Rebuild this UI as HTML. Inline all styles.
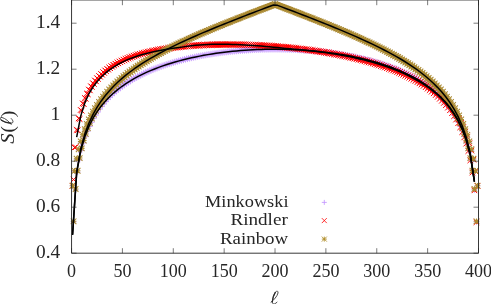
<!DOCTYPE html>
<html><head><meta charset="utf-8"><title>S(l)</title>
<style>
html,body{margin:0;padding:0;background:#fff;}
body{width:491px;height:304px;overflow:hidden;}
svg{display:block;font-family:"Liberation Serif",serif;}
</style></head><body>
<svg width="491" height="304" viewBox="0 0 491 304">
<rect width="491" height="304" fill="#fff"/>
<g fill="none" stroke-linecap="butt">
<path d="M69.77 185.78h5.6M72.57 182.98v5.6M70.78 221.99h5.6M73.58 219.19v5.6M71.8 171.17h5.6M74.6 168.37v5.6M72.82 190.07h5.6M75.62 187.27v5.6M73.84 159.48h5.6M76.64 156.68v5.6M74.85 172.18h5.6M77.65 169.38v5.6M75.87 150.3h5.6M78.67 147.5v5.6M76.89 159.87h5.6M79.69 157.07v5.6M77.91 142.84h5.6M80.71 140.04v5.6M78.92 150.51h5.6M81.72 147.71v5.6M79.94 136.57h5.6M82.74 133.77v5.6M80.96 142.97h5.6M83.76 140.17v5.6M81.98 131.18h5.6M84.78 128.38v5.6M82.99 136.67h5.6M85.79 133.87v5.6M84.01 126.45h5.6M86.81 123.65v5.6M85.03 131.27h5.6M87.83 128.47v5.6M86.05 122.24h5.6M88.85 119.44v5.6M87.06 126.54h5.6M89.86 123.74v5.6M88.08 118.46h5.6M90.88 115.66v5.6M89.1 122.33h5.6M91.9 119.53v5.6M90.11 115.02h5.6M92.91 112.22v5.6M91.13 118.55h5.6M93.93 115.75v5.6M92.15 111.87h5.6M94.95 109.07v5.6M93.17 115.11h5.6M95.97 112.31v5.6M94.18 108.97h5.6M96.98 106.17v5.6M95.2 111.97h5.6M98 109.17v5.6M96.22 106.28h5.6M99.02 103.48v5.6M97.24 109.07h5.6M100.04 106.27v5.6M98.25 103.77h5.6M101.05 100.97v5.6M99.27 106.39h5.6M102.07 103.59v5.6M100.29 101.43h5.6M103.09 98.63v5.6M101.31 103.89h5.6M104.11 101.09v5.6M102.32 99.23h5.6M105.12 96.43v5.6M103.34 101.55h5.6M106.14 98.75v5.6M104.36 97.16h5.6M107.16 94.36v5.6M105.38 99.36h5.6M108.18 96.56v5.6M106.39 95.2h5.6M109.19 92.4v5.6M107.41 97.29h5.6M110.21 94.49v5.6M108.43 93.34h5.6M111.23 90.54v5.6M109.44 95.34h5.6M112.24 92.54v5.6M110.46 91.58h5.6M113.26 88.78v5.6M111.48 93.49h5.6M114.28 90.69v5.6M112.5 89.91h5.6M115.3 87.11v5.6M113.51 91.74h5.6M116.31 88.94v5.6M114.53 88.31h5.6M117.33 85.51v5.6M115.55 90.07h5.6M118.35 87.27v5.6M116.57 86.79h5.6M119.37 83.99v5.6M117.58 88.48h5.6M120.38 85.68v5.6M118.6 85.33h5.6M121.4 82.53v5.6M119.62 86.96h5.6M122.42 84.16v5.6M120.64 83.94h5.6M123.44 81.14v5.6M121.65 85.51h5.6M124.45 82.71v5.6M122.67 82.6h5.6M125.47 79.8v5.6M123.69 84.13h5.6M126.49 81.33v5.6M124.71 81.32h5.6M127.51 78.52v5.6M125.72 82.8h5.6M128.52 80v5.6M126.74 80.08h5.6M129.54 77.28v5.6M127.76 81.52h5.6M130.56 78.72v5.6M128.78 78.9h5.6M131.58 76.1v5.6M129.79 80.3h5.6M132.59 77.5v5.6M130.81 77.76h5.6M133.61 74.96v5.6M131.83 79.12h5.6M134.63 76.32v5.6M132.84 76.66h5.6M135.64 73.86v5.6M133.86 77.99h5.6M136.66 75.19v5.6M134.88 75.6h5.6M137.68 72.8v5.6M135.9 76.89h5.6M138.7 74.09v5.6M136.91 74.58h5.6M139.71 71.78v5.6M137.93 75.84h5.6M140.73 73.04v5.6M138.95 73.59h5.6M141.75 70.79v5.6M139.97 74.83h5.6M142.77 72.03v5.6M140.98 72.64h5.6M143.78 69.84v5.6M142 73.85h5.6M144.8 71.05v5.6M143.02 71.72h5.6M145.82 68.92v5.6M144.04 72.9h5.6M146.84 70.1v5.6M145.05 70.83h5.6M147.85 68.03v5.6M146.07 71.99h5.6M148.87 69.19v5.6M147.09 69.97h5.6M149.89 67.17v5.6M148.11 71.11h5.6M150.91 68.31v5.6M149.12 69.13h5.6M151.92 66.33v5.6M150.14 70.25h5.6M152.94 67.45v5.6M151.16 68.33h5.6M153.96 65.53v5.6M152.17 69.43h5.6M154.97 66.63v5.6M153.19 67.55h5.6M155.99 64.75v5.6M154.21 68.63h5.6M157.01 65.83v5.6M155.23 66.79h5.6M158.03 63.99v5.6M156.24 67.86h5.6M159.04 65.06v5.6M157.26 66.06h5.6M160.06 63.26v5.6M158.28 67.11h5.6M161.08 64.31v5.6M159.3 65.35h5.6M162.1 62.55v5.6M160.31 66.39h5.6M163.11 63.59v5.6M161.33 64.66h5.6M164.13 61.86v5.6M162.35 65.68h5.6M165.15 62.88v5.6M163.37 63.99h5.6M166.17 61.19v5.6M164.38 65h5.6M167.18 62.2v5.6M165.4 63.35h5.6M168.2 60.55v5.6M166.42 64.35h5.6M169.22 61.55v5.6M167.44 62.72h5.6M170.24 59.92v5.6M168.45 63.71h5.6M171.25 60.91v5.6M169.47 62.12h5.6M172.27 59.32v5.6M170.49 63.09h5.6M173.29 60.29v5.6M171.5 61.53h5.6M174.3 58.73v5.6M172.52 62.49h5.6M175.32 59.69v5.6M173.54 60.96h5.6M176.34 58.16v5.6M174.56 61.91h5.6M177.36 59.11v5.6M175.57 60.4h5.6M178.37 57.6v5.6M176.59 61.35h5.6M179.39 58.55v5.6M177.61 59.87h5.6M180.41 57.07v5.6M178.63 60.81h5.6M181.43 58.01v5.6M179.64 59.35h5.6M182.44 56.55v5.6M180.66 60.28h5.6M183.46 57.48v5.6M181.68 58.85h5.6M184.48 56.05v5.6M182.7 59.77h5.6M185.5 56.97v5.6M183.71 58.36h5.6M186.51 55.56v5.6M184.73 59.27h5.6M187.53 56.47v5.6M185.75 57.89h5.6M188.55 55.09v5.6M186.77 58.79h5.6M189.57 55.99v5.6M187.78 57.43h5.6M190.58 54.63v5.6M188.8 58.33h5.6M191.6 55.53v5.6M189.82 56.98h5.6M192.62 54.18v5.6M190.83 57.88h5.6M193.63 55.08v5.6M191.85 56.56h5.6M194.65 53.76v5.6M192.87 57.45h5.6M195.67 54.65v5.6M193.89 56.14h5.6M196.69 53.34v5.6M194.9 57.03h5.6M197.7 54.23v5.6M195.92 55.74h5.6M198.72 52.94v5.6M196.94 56.62h5.6M199.74 53.82v5.6M197.96 55.35h5.6M200.76 52.55v5.6M198.97 56.23h5.6M201.77 53.43v5.6M199.99 54.98h5.6M202.79 52.18v5.6M201.01 55.85h5.6M203.81 53.05v5.6M202.03 54.62h5.6M204.83 51.82v5.6M203.04 55.49h5.6M205.84 52.69v5.6M204.06 54.27h5.6M206.86 51.47v5.6M205.08 55.13h5.6M207.88 52.33v5.6M206.1 53.93h5.6M208.9 51.13v5.6M207.11 54.79h5.6M209.91 51.99v5.6M208.13 53.6h5.6M210.93 50.8v5.6M209.15 54.47h5.6M211.95 51.67v5.6M210.17 53.29h5.6M212.97 50.49v5.6M211.18 54.15h5.6M213.98 51.35v5.6M212.2 52.99h5.6M215 50.19v5.6M213.22 53.85h5.6M216.02 51.05v5.6M214.23 52.7h5.6M217.03 49.9v5.6M215.25 53.56h5.6M218.05 50.76v5.6M216.27 52.42h5.6M219.07 49.62v5.6M217.29 53.28h5.6M220.09 50.48v5.6M218.3 52.16h5.6M221.1 49.36v5.6M219.32 53.01h5.6M222.12 50.21v5.6M220.34 51.9h5.6M223.14 49.1v5.6M221.36 52.75h5.6M224.16 49.95v5.6M222.37 51.66h5.6M225.17 48.86v5.6M223.39 52.51h5.6M226.19 49.71v5.6M224.41 51.42h5.6M227.21 48.62v5.6M225.43 52.27h5.6M228.23 49.47v5.6M226.44 51.2h5.6M229.24 48.4v5.6M227.46 52.05h5.6M230.26 49.25v5.6M228.48 50.98h5.6M231.28 48.18v5.6M229.5 51.83h5.6M232.3 49.03v5.6M230.51 50.78h5.6M233.31 47.98v5.6M231.53 51.63h5.6M234.33 48.83v5.6M232.55 50.59h5.6M235.35 47.79v5.6M233.56 51.44h5.6M236.36 48.64v5.6M234.58 50.41h5.6M237.38 47.61v5.6M235.6 51.26h5.6M238.4 48.46v5.6M236.62 50.24h5.6M239.42 47.44v5.6M237.63 51.09h5.6M240.43 48.29v5.6M238.65 50.07h5.6M241.45 47.27v5.6M239.67 50.93h5.6M242.47 48.13v5.6M240.69 49.92h5.6M243.49 47.12v5.6M241.7 50.78h5.6M244.5 47.98v5.6M242.72 49.78h5.6M245.52 46.98v5.6M243.74 50.64h5.6M246.54 47.84v5.6M244.76 49.65h5.6M247.56 46.85v5.6M245.77 50.51h5.6M248.57 47.71v5.6M246.79 49.53h5.6M249.59 46.73v5.6M247.81 50.38h5.6M250.61 47.58v5.6M248.83 49.41h5.6M251.63 46.61v5.6M249.84 50.27h5.6M252.64 47.47v5.6M250.86 49.31h5.6M253.66 46.51v5.6M251.88 50.17h5.6M254.68 47.37v5.6M252.89 49.22h5.6M255.69 46.42v5.6M253.91 50.08h5.6M256.71 47.28v5.6M254.93 49.13h5.6M257.73 46.33v5.6M255.95 50h5.6M258.75 47.2v5.6M256.96 49.06h5.6M259.76 46.26v5.6M257.98 49.93h5.6M260.78 47.13v5.6M259 48.99h5.6M261.8 46.19v5.6M260.02 49.87h5.6M262.82 47.07v5.6M261.03 48.93h5.6M263.83 46.13v5.6M262.05 49.81h5.6M264.85 47.01v5.6M263.07 48.89h5.6M265.87 46.09v5.6M264.09 49.77h5.6M266.89 46.97v5.6M265.1 48.85h5.6M267.9 46.05v5.6M266.12 49.74h5.6M268.92 46.94v5.6M267.14 48.82h5.6M269.94 46.02v5.6M268.16 49.71h5.6M270.96 46.91v5.6M269.17 48.8h5.6M271.97 46v5.6M270.19 49.7h5.6M272.99 46.9v5.6M271.21 48.8h5.6M274.01 46v5.6M272.22 49.69h5.6M275.02 46.89v5.6M273.24 48.8h5.6M276.04 46v5.6M274.26 49.7h5.6M277.06 46.9v5.6M275.28 48.8h5.6M278.08 46v5.6M276.29 49.71h5.6M279.09 46.91v5.6M277.31 48.82h5.6M280.11 46.02v5.6M278.33 49.74h5.6M281.13 46.94v5.6M279.35 48.85h5.6M282.15 46.05v5.6M280.36 49.77h5.6M283.16 46.97v5.6M281.38 48.89h5.6M284.18 46.09v5.6M282.4 49.81h5.6M285.2 47.01v5.6M283.42 48.93h5.6M286.22 46.13v5.6M284.43 49.87h5.6M287.23 47.07v5.6M285.45 48.99h5.6M288.25 46.19v5.6M286.47 49.93h5.6M289.27 47.13v5.6M287.49 49.06h5.6M290.29 46.26v5.6M288.5 50h5.6M291.3 47.2v5.6M289.52 49.13h5.6M292.32 46.33v5.6M290.54 50.08h5.6M293.34 47.28v5.6M291.56 49.22h5.6M294.36 46.42v5.6M292.57 50.17h5.6M295.37 47.37v5.6M293.59 49.31h5.6M296.39 46.51v5.6M294.61 50.27h5.6M297.41 47.47v5.6M295.62 49.41h5.6M298.42 46.61v5.6M296.64 50.38h5.6M299.44 47.58v5.6M297.66 49.53h5.6M300.46 46.73v5.6M298.68 50.51h5.6M301.48 47.71v5.6M299.69 49.65h5.6M302.49 46.85v5.6M300.71 50.64h5.6M303.51 47.84v5.6M301.73 49.78h5.6M304.53 46.98v5.6M302.75 50.78h5.6M305.55 47.98v5.6M303.76 49.92h5.6M306.56 47.12v5.6M304.78 50.93h5.6M307.58 48.13v5.6M305.8 50.07h5.6M308.6 47.27v5.6M306.82 51.09h5.6M309.62 48.29v5.6M307.83 50.24h5.6M310.63 47.44v5.6M308.85 51.26h5.6M311.65 48.46v5.6M309.87 50.41h5.6M312.67 47.61v5.6M310.89 51.44h5.6M313.69 48.64v5.6M311.9 50.59h5.6M314.7 47.79v5.6M312.92 51.63h5.6M315.72 48.83v5.6M313.94 50.78h5.6M316.74 47.98v5.6M314.95 51.83h5.6M317.75 49.03v5.6M315.97 50.98h5.6M318.77 48.18v5.6M316.99 52.05h5.6M319.79 49.25v5.6M318.01 51.2h5.6M320.81 48.4v5.6M319.02 52.27h5.6M321.82 49.47v5.6M320.04 51.42h5.6M322.84 48.62v5.6M321.06 52.51h5.6M323.86 49.71v5.6M322.08 51.66h5.6M324.88 48.86v5.6M323.09 52.75h5.6M325.89 49.95v5.6M324.11 51.9h5.6M326.91 49.1v5.6M325.13 53.01h5.6M327.93 50.21v5.6M326.15 52.16h5.6M328.95 49.36v5.6M327.16 53.28h5.6M329.96 50.48v5.6M328.18 52.42h5.6M330.98 49.62v5.6M329.2 53.56h5.6M332 50.76v5.6M330.22 52.7h5.6M333.02 49.9v5.6M331.23 53.85h5.6M334.03 51.05v5.6M332.25 52.99h5.6M335.05 50.19v5.6M333.27 54.15h5.6M336.07 51.35v5.6M334.28 53.29h5.6M337.08 50.49v5.6M335.3 54.47h5.6M338.1 51.67v5.6M336.32 53.6h5.6M339.12 50.8v5.6M337.34 54.79h5.6M340.14 51.99v5.6M338.35 53.93h5.6M341.15 51.13v5.6M339.37 55.13h5.6M342.17 52.33v5.6M340.39 54.27h5.6M343.19 51.47v5.6M341.41 55.49h5.6M344.21 52.69v5.6M342.42 54.62h5.6M345.22 51.82v5.6M343.44 55.85h5.6M346.24 53.05v5.6M344.46 54.98h5.6M347.26 52.18v5.6M345.48 56.23h5.6M348.28 53.43v5.6M346.49 55.35h5.6M349.29 52.55v5.6M347.51 56.62h5.6M350.31 53.82v5.6M348.53 55.74h5.6M351.33 52.94v5.6M349.55 57.03h5.6M352.35 54.23v5.6M350.56 56.14h5.6M353.36 53.34v5.6M351.58 57.45h5.6M354.38 54.65v5.6M352.6 56.56h5.6M355.4 53.76v5.6M353.61 57.88h5.6M356.41 55.08v5.6M354.63 56.98h5.6M357.43 54.18v5.6M355.65 58.33h5.6M358.45 55.53v5.6M356.67 57.43h5.6M359.47 54.63v5.6M357.68 58.79h5.6M360.48 55.99v5.6M358.7 57.89h5.6M361.5 55.09v5.6M359.72 59.27h5.6M362.52 56.47v5.6M360.74 58.36h5.6M363.54 55.56v5.6M361.75 59.77h5.6M364.55 56.97v5.6M362.77 58.85h5.6M365.57 56.05v5.6M363.79 60.28h5.6M366.59 57.48v5.6M364.81 59.35h5.6M367.61 56.55v5.6M365.82 60.81h5.6M368.62 58.01v5.6M366.84 59.87h5.6M369.64 57.07v5.6M367.86 61.35h5.6M370.66 58.55v5.6M368.88 60.4h5.6M371.68 57.6v5.6M369.89 61.91h5.6M372.69 59.11v5.6M370.91 60.96h5.6M373.71 58.16v5.6M371.93 62.49h5.6M374.73 59.69v5.6M372.95 61.53h5.6M375.75 58.73v5.6M373.96 63.09h5.6M376.76 60.29v5.6M374.98 62.12h5.6M377.78 59.32v5.6M376 63.71h5.6M378.8 60.91v5.6M377.01 62.72h5.6M379.81 59.92v5.6M378.03 64.35h5.6M380.83 61.55v5.6M379.05 63.35h5.6M381.85 60.55v5.6M380.07 65h5.6M382.87 62.2v5.6M381.08 63.99h5.6M383.88 61.19v5.6M382.1 65.68h5.6M384.9 62.88v5.6M383.12 64.66h5.6M385.92 61.86v5.6M384.14 66.39h5.6M386.94 63.59v5.6M385.15 65.35h5.6M387.95 62.55v5.6M386.17 67.11h5.6M388.97 64.31v5.6M387.19 66.06h5.6M389.99 63.26v5.6M388.21 67.86h5.6M391.01 65.06v5.6M389.22 66.79h5.6M392.02 63.99v5.6M390.24 68.63h5.6M393.04 65.83v5.6M391.26 67.55h5.6M394.06 64.75v5.6M392.28 69.43h5.6M395.08 66.63v5.6M393.29 68.33h5.6M396.09 65.53v5.6M394.31 70.25h5.6M397.11 67.45v5.6M395.33 69.13h5.6M398.13 66.33v5.6M396.34 71.11h5.6M399.14 68.31v5.6M397.36 69.97h5.6M400.16 67.17v5.6M398.38 71.99h5.6M401.18 69.19v5.6M399.4 70.83h5.6M402.2 68.03v5.6M400.41 72.9h5.6M403.21 70.1v5.6M401.43 71.72h5.6M404.23 68.92v5.6M402.45 73.85h5.6M405.25 71.05v5.6M403.47 72.64h5.6M406.27 69.84v5.6M404.48 74.83h5.6M407.28 72.03v5.6M405.5 73.59h5.6M408.3 70.79v5.6M406.52 75.84h5.6M409.32 73.04v5.6M407.54 74.58h5.6M410.34 71.78v5.6M408.55 76.89h5.6M411.35 74.09v5.6M409.57 75.6h5.6M412.37 72.8v5.6M410.59 77.99h5.6M413.39 75.19v5.6M411.61 76.66h5.6M414.41 73.86v5.6M412.62 79.12h5.6M415.42 76.32v5.6M413.64 77.76h5.6M416.44 74.96v5.6M414.66 80.3h5.6M417.46 77.5v5.6M415.67 78.9h5.6M418.47 76.1v5.6M416.69 81.52h5.6M419.49 78.72v5.6M417.71 80.08h5.6M420.51 77.28v5.6M418.73 82.8h5.6M421.53 80v5.6M419.74 81.32h5.6M422.54 78.52v5.6M420.76 84.13h5.6M423.56 81.33v5.6M421.78 82.6h5.6M424.58 79.8v5.6M422.8 85.51h5.6M425.6 82.71v5.6M423.81 83.94h5.6M426.61 81.14v5.6M424.83 86.96h5.6M427.63 84.16v5.6M425.85 85.33h5.6M428.65 82.53v5.6M426.87 88.48h5.6M429.67 85.68v5.6M427.88 86.79h5.6M430.68 83.99v5.6M428.9 90.07h5.6M431.7 87.27v5.6M429.92 88.31h5.6M432.72 85.51v5.6M430.94 91.74h5.6M433.74 88.94v5.6M431.95 89.91h5.6M434.75 87.11v5.6M432.97 93.49h5.6M435.77 90.69v5.6M433.99 91.58h5.6M436.79 88.78v5.6M435 95.34h5.6M437.81 92.54v5.6M436.02 93.34h5.6M438.82 90.54v5.6M437.04 97.29h5.6M439.84 94.49v5.6M438.06 95.2h5.6M440.86 92.4v5.6M439.07 99.36h5.6M441.87 96.56v5.6M440.09 97.16h5.6M442.89 94.36v5.6M441.11 101.55h5.6M443.91 98.75v5.6M442.13 99.23h5.6M444.93 96.43v5.6M443.14 103.89h5.6M445.94 101.09v5.6M444.16 101.43h5.6M446.96 98.63v5.6M445.18 106.39h5.6M447.98 103.59v5.6M446.2 103.77h5.6M449 100.97v5.6M447.21 109.07h5.6M450.01 106.27v5.6M448.23 106.28h5.6M451.03 103.48v5.6M449.25 111.97h5.6M452.05 109.17v5.6M450.27 108.97h5.6M453.07 106.17v5.6M451.28 115.11h5.6M454.08 112.31v5.6M452.3 111.87h5.6M455.1 109.07v5.6M453.32 118.55h5.6M456.12 115.75v5.6M454.34 115.02h5.6M457.14 112.22v5.6M455.35 122.33h5.6M458.15 119.53v5.6M456.37 118.46h5.6M459.17 115.66v5.6M457.39 126.54h5.6M460.19 123.74v5.6M458.4 122.24h5.6M461.2 119.44v5.6M459.42 131.27h5.6M462.22 128.47v5.6M460.44 126.45h5.6M463.24 123.65v5.6M461.46 136.67h5.6M464.26 133.87v5.6M462.47 131.18h5.6M465.27 128.38v5.6M463.49 142.97h5.6M466.29 140.17v5.6M464.51 136.57h5.6M467.31 133.77v5.6M465.53 150.51h5.6M468.33 147.71v5.6M466.54 142.84h5.6M469.34 140.04v5.6M467.56 159.87h5.6M470.36 157.07v5.6M468.58 150.3h5.6M471.38 147.5v5.6M469.6 172.18h5.6M472.4 169.38v5.6M470.61 159.48h5.6M473.41 156.68v5.6M471.63 190.07h5.6M474.43 187.27v5.6M472.65 171.17h5.6M475.45 168.37v5.6M473.67 221.99h5.6M476.47 219.19v5.6M474.68 185.78h5.6M477.48 182.98v5.6" stroke="#c79cff" stroke-width="0.95"/><path d="M321.8 202.4h5M324.3 199.9v5" stroke="#c090ff" stroke-width="0.8"/>
<path d="M69.77 182.98l5.6 5.6M69.77 188.58l5.6 -5.6M70.78 176.74l5.6 5.6M70.78 182.34l5.6 -5.6M71.8 144.7l5.6 5.6M71.8 150.3l5.6 -5.6M72.82 144.41l5.6 5.6M72.82 150.01l5.6 -5.6M73.84 127.08l5.6 5.6M73.84 132.68l5.6 -5.6M74.85 127.46l5.6 5.6M74.85 133.06l5.6 -5.6M75.87 115.6l5.6 5.6M75.87 121.2l5.6 -5.6M76.89 116.19l5.6 5.6M76.89 121.79l5.6 -5.6M77.91 107.17l5.6 5.6M77.91 112.77l5.6 -5.6M78.92 107.86l5.6 5.6M78.92 113.46l5.6 -5.6M79.94 100.57l5.6 5.6M79.94 106.17l5.6 -5.6M80.96 101.31l5.6 5.6M80.96 106.91l5.6 -5.6M81.98 95.18l5.6 5.6M81.98 100.78l5.6 -5.6M82.99 95.95l5.6 5.6M82.99 101.55l5.6 -5.6M84.01 90.66l5.6 5.6M84.01 96.26l5.6 -5.6M85.03 91.44l5.6 5.6M85.03 97.04l5.6 -5.6M86.05 86.78l5.6 5.6M86.05 92.38l5.6 -5.6M87.06 87.56l5.6 5.6M87.06 93.16l5.6 -5.6M88.08 83.39l5.6 5.6M88.08 88.99l5.6 -5.6M89.1 84.18l5.6 5.6M89.1 89.78l5.6 -5.6M90.11 80.4l5.6 5.6M90.11 86l5.6 -5.6M91.13 81.19l5.6 5.6M91.13 86.79l5.6 -5.6M92.15 77.73l5.6 5.6M92.15 83.33l5.6 -5.6M93.17 78.51l5.6 5.6M93.17 84.11l5.6 -5.6M94.18 75.32l5.6 5.6M94.18 80.92l5.6 -5.6M95.2 76.1l5.6 5.6M95.2 81.7l5.6 -5.6M96.22 73.14l5.6 5.6M96.22 78.74l5.6 -5.6M97.24 73.92l5.6 5.6M97.24 79.52l5.6 -5.6M98.25 71.15l5.6 5.6M98.25 76.75l5.6 -5.6M99.27 71.92l5.6 5.6M99.27 77.52l5.6 -5.6M100.29 69.32l5.6 5.6M100.29 74.92l5.6 -5.6M101.31 70.09l5.6 5.6M101.31 75.69l5.6 -5.6M102.32 67.64l5.6 5.6M102.32 73.24l5.6 -5.6M103.34 68.41l5.6 5.6M103.34 74.01l5.6 -5.6M104.36 66.08l5.6 5.6M104.36 71.68l5.6 -5.6M105.38 66.85l5.6 5.6M105.38 72.45l5.6 -5.6M106.39 64.63l5.6 5.6M106.39 70.23l5.6 -5.6M107.41 65.4l5.6 5.6M107.41 71l5.6 -5.6M108.43 63.29l5.6 5.6M108.43 68.89l5.6 -5.6M109.44 64.05l5.6 5.6M109.44 69.65l5.6 -5.6M110.46 62.03l5.6 5.6M110.46 67.63l5.6 -5.6M111.48 62.79l5.6 5.6M111.48 68.39l5.6 -5.6M112.5 60.85l5.6 5.6M112.5 66.45l5.6 -5.6M113.51 61.6l5.6 5.6M113.51 67.2l5.6 -5.6M114.53 59.75l5.6 5.6M114.53 65.35l5.6 -5.6M115.55 60.5l5.6 5.6M115.55 66.1l5.6 -5.6M116.57 58.71l5.6 5.6M116.57 64.31l5.6 -5.6M117.58 59.46l5.6 5.6M117.58 65.06l5.6 -5.6M118.6 57.73l5.6 5.6M118.6 63.33l5.6 -5.6M119.62 58.48l5.6 5.6M119.62 64.08l5.6 -5.6M120.64 56.81l5.6 5.6M120.64 62.41l5.6 -5.6M121.65 57.55l5.6 5.6M121.65 63.15l5.6 -5.6M122.67 55.94l5.6 5.6M122.67 61.54l5.6 -5.6M123.69 56.68l5.6 5.6M123.69 62.28l5.6 -5.6M124.71 55.11l5.6 5.6M124.71 60.71l5.6 -5.6M125.72 55.85l5.6 5.6M125.72 61.45l5.6 -5.6M126.74 54.33l5.6 5.6M126.74 59.93l5.6 -5.6M127.76 55.07l5.6 5.6M127.76 60.67l5.6 -5.6M128.78 53.6l5.6 5.6M128.78 59.2l5.6 -5.6M129.79 54.33l5.6 5.6M129.79 59.93l5.6 -5.6M130.81 52.89l5.6 5.6M130.81 58.49l5.6 -5.6M131.83 53.63l5.6 5.6M131.83 59.23l5.6 -5.6M132.84 52.23l5.6 5.6M132.84 57.83l5.6 -5.6M133.86 52.96l5.6 5.6M133.86 58.56l5.6 -5.6M134.88 51.6l5.6 5.6M134.88 57.2l5.6 -5.6M135.9 52.33l5.6 5.6M135.9 57.93l5.6 -5.6M136.91 51l5.6 5.6M136.91 56.6l5.6 -5.6M137.93 51.73l5.6 5.6M137.93 57.33l5.6 -5.6M138.95 50.43l5.6 5.6M138.95 56.03l5.6 -5.6M139.97 51.16l5.6 5.6M139.97 56.76l5.6 -5.6M140.98 49.88l5.6 5.6M140.98 55.48l5.6 -5.6M142 50.61l5.6 5.6M142 56.21l5.6 -5.6M143.02 49.36l5.6 5.6M143.02 54.96l5.6 -5.6M144.04 50.09l5.6 5.6M144.04 55.69l5.6 -5.6M145.05 48.87l5.6 5.6M145.05 54.47l5.6 -5.6M146.07 49.6l5.6 5.6M146.07 55.2l5.6 -5.6M147.09 48.4l5.6 5.6M147.09 54l5.6 -5.6M148.11 49.13l5.6 5.6M148.11 54.73l5.6 -5.6M149.12 47.96l5.6 5.6M149.12 53.56l5.6 -5.6M150.14 48.69l5.6 5.6M150.14 54.29l5.6 -5.6M151.16 47.53l5.6 5.6M151.16 53.13l5.6 -5.6M152.17 48.26l5.6 5.6M152.17 53.86l5.6 -5.6M153.19 47.13l5.6 5.6M153.19 52.73l5.6 -5.6M154.21 47.86l5.6 5.6M154.21 53.46l5.6 -5.6M155.23 46.74l5.6 5.6M155.23 52.34l5.6 -5.6M156.24 47.47l5.6 5.6M156.24 53.07l5.6 -5.6M157.26 46.38l5.6 5.6M157.26 51.98l5.6 -5.6M158.28 47.1l5.6 5.6M158.28 52.7l5.6 -5.6M159.3 46.03l5.6 5.6M159.3 51.63l5.6 -5.6M160.31 46.76l5.6 5.6M160.31 52.36l5.6 -5.6M161.33 45.69l5.6 5.6M161.33 51.29l5.6 -5.6M162.35 46.42l5.6 5.6M162.35 52.02l5.6 -5.6M163.37 45.38l5.6 5.6M163.37 50.98l5.6 -5.6M164.38 46.11l5.6 5.6M164.38 51.71l5.6 -5.6M165.4 45.08l5.6 5.6M165.4 50.68l5.6 -5.6M166.42 45.81l5.6 5.6M166.42 51.41l5.6 -5.6M167.44 44.79l5.6 5.6M167.44 50.39l5.6 -5.6M168.45 45.52l5.6 5.6M168.45 51.12l5.6 -5.6M169.47 44.52l5.6 5.6M169.47 50.12l5.6 -5.6M170.49 45.25l5.6 5.6M170.49 50.85l5.6 -5.6M171.5 44.26l5.6 5.6M171.5 49.86l5.6 -5.6M172.52 45l5.6 5.6M172.52 50.6l5.6 -5.6M173.54 44.02l5.6 5.6M173.54 49.62l5.6 -5.6M174.56 44.76l5.6 5.6M174.56 50.36l5.6 -5.6M175.57 43.79l5.6 5.6M175.57 49.39l5.6 -5.6M176.59 44.53l5.6 5.6M176.59 50.13l5.6 -5.6M177.61 43.57l5.6 5.6M177.61 49.17l5.6 -5.6M178.63 44.31l5.6 5.6M178.63 49.91l5.6 -5.6M179.64 43.37l5.6 5.6M179.64 48.97l5.6 -5.6M180.66 44.11l5.6 5.6M180.66 49.71l5.6 -5.6M181.68 43.17l5.6 5.6M181.68 48.77l5.6 -5.6M182.7 43.91l5.6 5.6M182.7 49.51l5.6 -5.6M183.71 42.99l5.6 5.6M183.71 48.59l5.6 -5.6M184.73 43.73l5.6 5.6M184.73 49.33l5.6 -5.6M185.75 42.82l5.6 5.6M185.75 48.42l5.6 -5.6M186.77 43.56l5.6 5.6M186.77 49.16l5.6 -5.6M187.78 42.66l5.6 5.6M187.78 48.26l5.6 -5.6M188.8 43.4l5.6 5.6M188.8 49l5.6 -5.6M189.82 42.51l5.6 5.6M189.82 48.11l5.6 -5.6M190.83 43.25l5.6 5.6M190.83 48.85l5.6 -5.6M191.85 42.36l5.6 5.6M191.85 47.96l5.6 -5.6M192.87 43.12l5.6 5.6M192.87 48.72l5.6 -5.6M193.89 42.23l5.6 5.6M193.89 47.83l5.6 -5.6M194.9 42.99l5.6 5.6M194.9 48.59l5.6 -5.6M195.92 42.11l5.6 5.6M195.92 47.71l5.6 -5.6M196.94 42.87l5.6 5.6M196.94 48.47l5.6 -5.6M197.96 42l5.6 5.6M197.96 47.6l5.6 -5.6M198.97 42.76l5.6 5.6M198.97 48.36l5.6 -5.6M199.99 41.9l5.6 5.6M199.99 47.5l5.6 -5.6M201.01 42.66l5.6 5.6M201.01 48.26l5.6 -5.6M202.03 41.81l5.6 5.6M202.03 47.41l5.6 -5.6M203.04 42.57l5.6 5.6M203.04 48.17l5.6 -5.6M204.06 41.72l5.6 5.6M204.06 47.32l5.6 -5.6M205.08 42.49l5.6 5.6M205.08 48.09l5.6 -5.6M206.1 41.65l5.6 5.6M206.1 47.25l5.6 -5.6M207.11 42.42l5.6 5.6M207.11 48.02l5.6 -5.6M208.13 41.58l5.6 5.6M208.13 47.18l5.6 -5.6M209.15 42.35l5.6 5.6M209.15 47.95l5.6 -5.6M210.17 41.52l5.6 5.6M210.17 47.12l5.6 -5.6M211.18 42.29l5.6 5.6M211.18 47.89l5.6 -5.6M212.2 41.47l5.6 5.6M212.2 47.07l5.6 -5.6M213.22 42.25l5.6 5.6M213.22 47.85l5.6 -5.6M214.23 41.43l5.6 5.6M214.23 47.03l5.6 -5.6M215.25 42.21l5.6 5.6M215.25 47.81l5.6 -5.6M216.27 41.39l5.6 5.6M216.27 46.99l5.6 -5.6M217.29 42.18l5.6 5.6M217.29 47.78l5.6 -5.6M218.3 41.37l5.6 5.6M218.3 46.97l5.6 -5.6M219.32 42.15l5.6 5.6M219.32 47.75l5.6 -5.6M220.34 41.35l5.6 5.6M220.34 46.95l5.6 -5.6M221.36 42.14l5.6 5.6M221.36 47.74l5.6 -5.6M222.37 41.33l5.6 5.6M222.37 46.93l5.6 -5.6M223.39 42.13l5.6 5.6M223.39 47.73l5.6 -5.6M224.41 41.33l5.6 5.6M224.41 46.93l5.6 -5.6M225.43 42.13l5.6 5.6M225.43 47.73l5.6 -5.6M226.44 41.33l5.6 5.6M226.44 46.93l5.6 -5.6M227.46 42.13l5.6 5.6M227.46 47.73l5.6 -5.6M228.48 41.34l5.6 5.6M228.48 46.94l5.6 -5.6M229.5 42.15l5.6 5.6M229.5 47.75l5.6 -5.6M230.51 41.36l5.6 5.6M230.51 46.96l5.6 -5.6M231.53 42.17l5.6 5.6M231.53 47.77l5.6 -5.6M232.55 41.38l5.6 5.6M232.55 46.98l5.6 -5.6M233.56 42.2l5.6 5.6M233.56 47.8l5.6 -5.6M234.58 41.41l5.6 5.6M234.58 47.01l5.6 -5.6M235.6 42.23l5.6 5.6M235.6 47.83l5.6 -5.6M236.62 41.45l5.6 5.6M236.62 47.05l5.6 -5.6M237.63 42.27l5.6 5.6M237.63 47.87l5.6 -5.6M238.65 41.5l5.6 5.6M238.65 47.1l5.6 -5.6M239.67 42.32l5.6 5.6M239.67 47.92l5.6 -5.6M240.69 41.55l5.6 5.6M240.69 47.15l5.6 -5.6M241.7 42.38l5.6 5.6M241.7 47.98l5.6 -5.6M242.72 41.61l5.6 5.6M242.72 47.21l5.6 -5.6M243.74 42.44l5.6 5.6M243.74 48.04l5.6 -5.6M244.76 41.67l5.6 5.6M244.76 47.27l5.6 -5.6M245.77 42.51l5.6 5.6M245.77 48.11l5.6 -5.6M246.79 41.74l5.6 5.6M246.79 47.34l5.6 -5.6M247.81 42.59l5.6 5.6M247.81 48.19l5.6 -5.6M248.83 41.82l5.6 5.6M248.83 47.42l5.6 -5.6M249.84 42.67l5.6 5.6M249.84 48.27l5.6 -5.6M250.86 41.91l5.6 5.6M250.86 47.51l5.6 -5.6M251.88 42.76l5.6 5.6M251.88 48.36l5.6 -5.6M252.89 42l5.6 5.6M252.89 47.6l5.6 -5.6M253.91 42.86l5.6 5.6M253.91 48.46l5.6 -5.6M254.93 42.09l5.6 5.6M254.93 47.69l5.6 -5.6M255.95 42.96l5.6 5.6M255.95 48.56l5.6 -5.6M256.96 42.2l5.6 5.6M256.96 47.8l5.6 -5.6M257.98 43.07l5.6 5.6M257.98 48.67l5.6 -5.6M259 42.31l5.6 5.6M259 47.91l5.6 -5.6M260.02 43.19l5.6 5.6M260.02 48.79l5.6 -5.6M261.03 42.43l5.6 5.6M261.03 48.03l5.6 -5.6M262.05 43.31l5.6 5.6M262.05 48.91l5.6 -5.6M263.07 42.55l5.6 5.6M263.07 48.15l5.6 -5.6M264.09 43.44l5.6 5.6M264.09 49.04l5.6 -5.6M265.1 42.68l5.6 5.6M265.1 48.28l5.6 -5.6M266.12 43.57l5.6 5.6M266.12 49.17l5.6 -5.6M267.14 42.82l5.6 5.6M267.14 48.42l5.6 -5.6M268.16 43.72l5.6 5.6M268.16 49.32l5.6 -5.6M269.17 42.96l5.6 5.6M269.17 48.56l5.6 -5.6M270.19 43.87l5.6 5.6M270.19 49.47l5.6 -5.6M271.21 43.11l5.6 5.6M271.21 48.71l5.6 -5.6M272.22 44.02l5.6 5.6M272.22 49.62l5.6 -5.6M273.24 43.26l5.6 5.6M273.24 48.86l5.6 -5.6M274.26 44.18l5.6 5.6M274.26 49.78l5.6 -5.6M275.28 43.43l5.6 5.6M275.28 49.03l5.6 -5.6M276.29 44.35l5.6 5.6M276.29 49.95l5.6 -5.6M277.31 43.59l5.6 5.6M277.31 49.19l5.6 -5.6M278.33 44.53l5.6 5.6M278.33 50.13l5.6 -5.6M279.35 43.77l5.6 5.6M279.35 49.37l5.6 -5.6M280.36 44.71l5.6 5.6M280.36 50.31l5.6 -5.6M281.38 43.95l5.6 5.6M281.38 49.55l5.6 -5.6M282.4 44.9l5.6 5.6M282.4 50.5l5.6 -5.6M283.42 44.14l5.6 5.6M283.42 49.74l5.6 -5.6M284.43 45.1l5.6 5.6M284.43 50.7l5.6 -5.6M285.45 44.33l5.6 5.6M285.45 49.93l5.6 -5.6M286.47 45.3l5.6 5.6M286.47 50.9l5.6 -5.6M287.49 44.54l5.6 5.6M287.49 50.14l5.6 -5.6M288.5 45.51l5.6 5.6M288.5 51.11l5.6 -5.6M289.52 44.74l5.6 5.6M289.52 50.34l5.6 -5.6M290.54 45.72l5.6 5.6M290.54 51.32l5.6 -5.6M291.56 44.96l5.6 5.6M291.56 50.56l5.6 -5.6M292.57 45.95l5.6 5.6M292.57 51.55l5.6 -5.6M293.59 45.18l5.6 5.6M293.59 50.78l5.6 -5.6M294.61 46.18l5.6 5.6M294.61 51.78l5.6 -5.6M295.62 45.41l5.6 5.6M295.62 51.01l5.6 -5.6M296.64 46.42l5.6 5.6M296.64 52.02l5.6 -5.6M297.66 45.64l5.6 5.6M297.66 51.24l5.6 -5.6M298.68 46.66l5.6 5.6M298.68 52.26l5.6 -5.6M299.69 45.89l5.6 5.6M299.69 51.49l5.6 -5.6M300.71 46.91l5.6 5.6M300.71 52.51l5.6 -5.6M301.73 46.14l5.6 5.6M301.73 51.74l5.6 -5.6M302.75 47.17l5.6 5.6M302.75 52.77l5.6 -5.6M303.76 46.39l5.6 5.6M303.76 51.99l5.6 -5.6M304.78 47.44l5.6 5.6M304.78 53.04l5.6 -5.6M305.8 46.66l5.6 5.6M305.8 52.26l5.6 -5.6M306.82 47.71l5.6 5.6M306.82 53.31l5.6 -5.6M307.83 46.93l5.6 5.6M307.83 52.53l5.6 -5.6M308.85 47.99l5.6 5.6M308.85 53.59l5.6 -5.6M309.87 47.21l5.6 5.6M309.87 52.81l5.6 -5.6M310.89 48.28l5.6 5.6M310.89 53.88l5.6 -5.6M311.9 47.49l5.6 5.6M311.9 53.09l5.6 -5.6M312.92 48.58l5.6 5.6M312.92 54.18l5.6 -5.6M313.94 47.79l5.6 5.6M313.94 53.39l5.6 -5.6M314.95 48.89l5.6 5.6M314.95 54.49l5.6 -5.6M315.97 48.09l5.6 5.6M315.97 53.69l5.6 -5.6M316.99 49.2l5.6 5.6M316.99 54.8l5.6 -5.6M318.01 48.4l5.6 5.6M318.01 54l5.6 -5.6M319.02 49.52l5.6 5.6M319.02 55.12l5.6 -5.6M320.04 48.72l5.6 5.6M320.04 54.32l5.6 -5.6M321.06 49.85l5.6 5.6M321.06 55.45l5.6 -5.6M322.08 49.04l5.6 5.6M322.08 54.64l5.6 -5.6M323.09 50.19l5.6 5.6M323.09 55.79l5.6 -5.6M324.11 49.37l5.6 5.6M324.11 54.97l5.6 -5.6M325.13 50.53l5.6 5.6M325.13 56.13l5.6 -5.6M326.15 49.72l5.6 5.6M326.15 55.32l5.6 -5.6M327.16 50.89l5.6 5.6M327.16 56.49l5.6 -5.6M328.18 50.07l5.6 5.6M328.18 55.67l5.6 -5.6M329.2 51.25l5.6 5.6M329.2 56.85l5.6 -5.6M330.22 50.43l5.6 5.6M330.22 56.03l5.6 -5.6M331.23 51.63l5.6 5.6M331.23 57.23l5.6 -5.6M332.25 50.79l5.6 5.6M332.25 56.39l5.6 -5.6M333.27 52.01l5.6 5.6M333.27 57.61l5.6 -5.6M334.28 51.17l5.6 5.6M334.28 56.77l5.6 -5.6M335.3 52.4l5.6 5.6M335.3 58l5.6 -5.6M336.32 51.56l5.6 5.6M336.32 57.16l5.6 -5.6M337.34 52.8l5.6 5.6M337.34 58.4l5.6 -5.6M338.35 51.95l5.6 5.6M338.35 57.55l5.6 -5.6M339.37 53.22l5.6 5.6M339.37 58.82l5.6 -5.6M340.39 52.36l5.6 5.6M340.39 57.96l5.6 -5.6M341.41 53.64l5.6 5.6M341.41 59.24l5.6 -5.6M342.42 52.77l5.6 5.6M342.42 58.37l5.6 -5.6M343.44 54.07l5.6 5.6M343.44 59.67l5.6 -5.6M344.46 53.2l5.6 5.6M344.46 58.8l5.6 -5.6M345.48 54.51l5.6 5.6M345.48 60.11l5.6 -5.6M346.49 53.64l5.6 5.6M346.49 59.24l5.6 -5.6M347.51 54.97l5.6 5.6M347.51 60.57l5.6 -5.6M348.53 54.08l5.6 5.6M348.53 59.68l5.6 -5.6M349.55 55.43l5.6 5.6M349.55 61.03l5.6 -5.6M350.56 54.54l5.6 5.6M350.56 60.14l5.6 -5.6M351.58 55.91l5.6 5.6M351.58 61.51l5.6 -5.6M352.6 55.01l5.6 5.6M352.6 60.61l5.6 -5.6M353.61 56.4l5.6 5.6M353.61 62l5.6 -5.6M354.63 55.49l5.6 5.6M354.63 61.09l5.6 -5.6M355.65 56.9l5.6 5.6M355.65 62.5l5.6 -5.6M356.67 55.98l5.6 5.6M356.67 61.58l5.6 -5.6M357.68 57.41l5.6 5.6M357.68 63.01l5.6 -5.6M358.7 56.48l5.6 5.6M358.7 62.08l5.6 -5.6M359.72 57.93l5.6 5.6M359.72 63.53l5.6 -5.6M360.74 57l5.6 5.6M360.74 62.6l5.6 -5.6M361.75 58.47l5.6 5.6M361.75 64.07l5.6 -5.6M362.77 57.53l5.6 5.6M362.77 63.13l5.6 -5.6M363.79 59.03l5.6 5.6M363.79 64.63l5.6 -5.6M364.81 58.07l5.6 5.6M364.81 63.67l5.6 -5.6M365.82 59.59l5.6 5.6M365.82 65.19l5.6 -5.6M366.84 58.62l5.6 5.6M366.84 64.22l5.6 -5.6M367.86 60.18l5.6 5.6M367.86 65.78l5.6 -5.6M368.88 59.19l5.6 5.6M368.88 64.79l5.6 -5.6M369.89 60.77l5.6 5.6M369.89 66.37l5.6 -5.6M370.91 59.78l5.6 5.6M370.91 65.38l5.6 -5.6M371.93 61.38l5.6 5.6M371.93 66.98l5.6 -5.6M372.95 60.38l5.6 5.6M372.95 65.98l5.6 -5.6M373.96 62.01l5.6 5.6M373.96 67.61l5.6 -5.6M374.98 60.99l5.6 5.6M374.98 66.59l5.6 -5.6M376 62.66l5.6 5.6M376 68.26l5.6 -5.6M377.01 61.62l5.6 5.6M377.01 67.22l5.6 -5.6M378.03 63.32l5.6 5.6M378.03 68.92l5.6 -5.6M379.05 62.27l5.6 5.6M379.05 67.87l5.6 -5.6M380.07 64l5.6 5.6M380.07 69.6l5.6 -5.6M381.08 62.94l5.6 5.6M381.08 68.54l5.6 -5.6M382.1 64.7l5.6 5.6M382.1 70.3l5.6 -5.6M383.12 63.62l5.6 5.6M383.12 69.22l5.6 -5.6M384.14 65.42l5.6 5.6M384.14 71.02l5.6 -5.6M385.15 64.32l5.6 5.6M385.15 69.92l5.6 -5.6M386.17 66.16l5.6 5.6M386.17 71.76l5.6 -5.6M387.19 65.04l5.6 5.6M387.19 70.64l5.6 -5.6M388.21 66.92l5.6 5.6M388.21 72.52l5.6 -5.6M389.22 65.79l5.6 5.6M389.22 71.39l5.6 -5.6M390.24 67.7l5.6 5.6M390.24 73.3l5.6 -5.6M391.26 66.55l5.6 5.6M391.26 72.15l5.6 -5.6M392.28 68.51l5.6 5.6M392.28 74.11l5.6 -5.6M393.29 67.33l5.6 5.6M393.29 72.93l5.6 -5.6M394.31 69.34l5.6 5.6M394.31 74.94l5.6 -5.6M395.33 68.14l5.6 5.6M395.33 73.74l5.6 -5.6M396.34 70.19l5.6 5.6M396.34 75.79l5.6 -5.6M397.36 68.98l5.6 5.6M397.36 74.58l5.6 -5.6M398.38 71.08l5.6 5.6M398.38 76.68l5.6 -5.6M399.4 69.83l5.6 5.6M399.4 75.43l5.6 -5.6M400.41 71.99l5.6 5.6M400.41 77.59l5.6 -5.6M401.43 70.72l5.6 5.6M401.43 76.32l5.6 -5.6M402.45 72.93l5.6 5.6M402.45 78.53l5.6 -5.6M403.47 71.63l5.6 5.6M403.47 77.23l5.6 -5.6M404.48 73.9l5.6 5.6M404.48 79.5l5.6 -5.6M405.5 72.58l5.6 5.6M405.5 78.18l5.6 -5.6M406.52 74.91l5.6 5.6M406.52 80.51l5.6 -5.6M407.54 73.55l5.6 5.6M407.54 79.15l5.6 -5.6M408.55 75.95l5.6 5.6M408.55 81.55l5.6 -5.6M409.57 74.56l5.6 5.6M409.57 80.16l5.6 -5.6M410.59 77.02l5.6 5.6M410.59 82.62l5.6 -5.6M411.61 75.6l5.6 5.6M411.61 81.2l5.6 -5.6M412.62 78.14l5.6 5.6M412.62 83.74l5.6 -5.6M413.64 76.68l5.6 5.6M413.64 82.28l5.6 -5.6M414.66 79.3l5.6 5.6M414.66 84.9l5.6 -5.6M415.67 77.8l5.6 5.6M415.67 83.4l5.6 -5.6M416.69 80.5l5.6 5.6M416.69 86.1l5.6 -5.6M417.71 78.96l5.6 5.6M417.71 84.56l5.6 -5.6M418.73 81.76l5.6 5.6M418.73 87.36l5.6 -5.6M419.74 80.17l5.6 5.6M419.74 85.77l5.6 -5.6M420.76 83.06l5.6 5.6M420.76 88.66l5.6 -5.6M421.78 81.42l5.6 5.6M421.78 87.02l5.6 -5.6M422.8 84.42l5.6 5.6M422.8 90.02l5.6 -5.6M423.81 82.72l5.6 5.6M423.81 88.32l5.6 -5.6M424.83 85.84l5.6 5.6M424.83 91.44l5.6 -5.6M425.85 84.08l5.6 5.6M425.85 89.68l5.6 -5.6M426.87 87.32l5.6 5.6M426.87 92.92l5.6 -5.6M427.88 85.5l5.6 5.6M427.88 91.1l5.6 -5.6M428.9 88.87l5.6 5.6M428.9 94.47l5.6 -5.6M429.92 86.99l5.6 5.6M429.92 92.59l5.6 -5.6M430.94 90.5l5.6 5.6M430.94 96.1l5.6 -5.6M431.95 88.54l5.6 5.6M431.95 94.14l5.6 -5.6M432.97 92.21l5.6 5.6M432.97 97.81l5.6 -5.6M433.99 90.17l5.6 5.6M433.99 95.77l5.6 -5.6M435 94.02l5.6 5.6M435 99.62l5.6 -5.6M436.02 91.89l5.6 5.6M436.02 97.49l5.6 -5.6M437.04 95.92l5.6 5.6M437.04 101.52l5.6 -5.6M438.06 93.69l5.6 5.6M438.06 99.29l5.6 -5.6M439.07 97.94l5.6 5.6M439.07 103.54l5.6 -5.6M440.09 95.6l5.6 5.6M440.09 101.2l5.6 -5.6M441.11 100.08l5.6 5.6M441.11 105.68l5.6 -5.6M442.13 97.62l5.6 5.6M442.13 103.22l5.6 -5.6M443.14 102.37l5.6 5.6M443.14 107.97l5.6 -5.6M444.16 99.77l5.6 5.6M444.16 105.37l5.6 -5.6M445.18 104.81l5.6 5.6M445.18 110.41l5.6 -5.6M446.2 102.05l5.6 5.6M446.2 107.65l5.6 -5.6M447.21 107.44l5.6 5.6M447.21 113.04l5.6 -5.6M448.23 104.5l5.6 5.6M448.23 110.1l5.6 -5.6M449.25 110.28l5.6 5.6M449.25 115.88l5.6 -5.6M450.27 107.12l5.6 5.6M450.27 112.72l5.6 -5.6M451.28 113.36l5.6 5.6M451.28 118.96l5.6 -5.6M452.3 109.96l5.6 5.6M452.3 115.56l5.6 -5.6M453.32 116.73l5.6 5.6M453.32 122.33l5.6 -5.6M454.34 113.04l5.6 5.6M454.34 118.64l5.6 -5.6M455.35 120.44l5.6 5.6M455.35 126.04l5.6 -5.6M456.37 116.41l5.6 5.6M456.37 122.01l5.6 -5.6M457.39 124.58l5.6 5.6M457.39 130.18l5.6 -5.6M458.4 120.12l5.6 5.6M458.4 125.72l5.6 -5.6M459.42 129.24l5.6 5.6M459.42 134.84l5.6 -5.6M460.44 124.25l5.6 5.6M460.44 129.85l5.6 -5.6M461.46 134.57l5.6 5.6M461.46 140.17l5.6 -5.6M462.47 128.9l5.6 5.6M462.47 134.5l5.6 -5.6M463.49 140.79l5.6 5.6M463.49 146.39l5.6 -5.6M464.51 134.21l5.6 5.6M464.51 139.81l5.6 -5.6M465.53 148.24l5.6 5.6M465.53 153.84l5.6 -5.6M466.54 140.4l5.6 5.6M466.54 146l5.6 -5.6M467.56 157.52l5.6 5.6M467.56 163.12l5.6 -5.6M468.58 147.77l5.6 5.6M468.58 153.37l5.6 -5.6M469.6 169.74l5.6 5.6M469.6 175.34l5.6 -5.6M470.61 156.86l5.6 5.6M470.61 162.46l5.6 -5.6M471.63 187.54l5.6 5.6M471.63 193.14l5.6 -5.6M472.65 168.46l5.6 5.6M472.65 174.06l5.6 -5.6M473.67 219.36l5.6 5.6M473.67 224.96l5.6 -5.6M474.68 182.98l5.6 5.6M474.68 188.58l5.6 -5.6" stroke="#ff0000" stroke-width="1.0"/><path d="M321.8 218.1l5 5M321.8 223.1l5 -5" stroke="#ff0000" stroke-width="0.8"/>
<path d="M69.77 185.78h5.6M72.57 182.98v5.6M69.77 182.98l5.6 5.6M69.77 188.58l5.6 -5.6M70.78 221.3h5.6M73.58 218.5v5.6M70.78 218.5l5.6 5.6M70.78 224.1l5.6 -5.6M71.8 170.8h5.6M74.6 168v5.6M71.8 168l5.6 5.6M71.8 173.6l5.6 -5.6M72.82 188.99h5.6M75.62 186.19v5.6M72.82 186.19l5.6 5.6M72.82 191.79l5.6 -5.6M73.84 158.74h5.6M76.64 155.94v5.6M73.84 155.94l5.6 5.6M73.84 161.54l5.6 -5.6M74.85 170.74h5.6M77.65 167.94v5.6M74.85 167.94l5.6 5.6M74.85 173.54l5.6 -5.6M75.87 149.22h5.6M78.67 146.42v5.6M75.87 146.42l5.6 5.6M75.87 152.02l5.6 -5.6M76.89 158.08h5.6M79.69 155.28v5.6M76.89 155.28l5.6 5.6M76.89 160.88l5.6 -5.6M77.91 141.41h5.6M80.71 138.61v5.6M77.91 138.61l5.6 5.6M77.91 144.21l5.6 -5.6M78.92 148.39h5.6M81.72 145.59v5.6M78.92 145.59l5.6 5.6M78.92 151.19l5.6 -5.6M79.94 134.8h5.6M82.74 132v5.6M79.94 132l5.6 5.6M79.94 137.6l5.6 -5.6M80.96 140.53h5.6M83.76 137.73v5.6M80.96 137.73l5.6 5.6M80.96 143.33l5.6 -5.6M81.98 129.08h5.6M84.78 126.28v5.6M81.98 126.28l5.6 5.6M81.98 131.88l5.6 -5.6M82.99 133.91h5.6M85.79 131.11v5.6M82.99 131.11l5.6 5.6M82.99 136.71l5.6 -5.6M84.01 124.03h5.6M86.81 121.23v5.6M84.01 121.23l5.6 5.6M84.01 126.83l5.6 -5.6M85.03 128.19h5.6M87.83 125.39v5.6M85.03 125.39l5.6 5.6M85.03 130.99l5.6 -5.6M86.05 119.51h5.6M88.85 116.71v5.6M86.05 116.71l5.6 5.6M86.05 122.31l5.6 -5.6M87.06 123.15h5.6M89.86 120.35v5.6M87.06 120.35l5.6 5.6M87.06 125.95l5.6 -5.6M88.08 115.41h5.6M90.88 112.61v5.6M88.08 112.61l5.6 5.6M88.08 118.21l5.6 -5.6M89.1 118.64h5.6M91.9 115.84v5.6M89.1 115.84l5.6 5.6M89.1 121.44l5.6 -5.6M90.11 111.66h5.6M92.91 108.86v5.6M90.11 108.86l5.6 5.6M90.11 114.46l5.6 -5.6M91.13 114.56h5.6M93.93 111.76v5.6M91.13 111.76l5.6 5.6M91.13 117.36l5.6 -5.6M92.15 108.21h5.6M94.95 105.41v5.6M92.15 105.41l5.6 5.6M92.15 111.01l5.6 -5.6M93.17 110.83h5.6M95.97 108.03v5.6M93.17 108.03l5.6 5.6M93.17 113.63l5.6 -5.6M94.18 105.01h5.6M96.98 102.21v5.6M94.18 102.21l5.6 5.6M94.18 107.81l5.6 -5.6M95.2 107.4h5.6M98 104.6v5.6M95.2 104.6l5.6 5.6M95.2 110.2l5.6 -5.6M96.22 102.03h5.6M99.02 99.23v5.6M96.22 99.23l5.6 5.6M96.22 104.83l5.6 -5.6M97.24 104.21h5.6M100.04 101.41v5.6M97.24 101.41l5.6 5.6M97.24 107.01l5.6 -5.6M98.25 99.23h5.6M101.05 96.43v5.6M98.25 96.43l5.6 5.6M98.25 102.03l5.6 -5.6M99.27 101.24h5.6M102.07 98.44v5.6M99.27 98.44l5.6 5.6M99.27 104.04l5.6 -5.6M100.29 96.59h5.6M103.09 93.79v5.6M100.29 93.79l5.6 5.6M100.29 99.39l5.6 -5.6M101.31 98.45h5.6M104.11 95.65v5.6M101.31 95.65l5.6 5.6M101.31 101.25l5.6 -5.6M102.32 94.1h5.6M105.12 91.3v5.6M102.32 91.3l5.6 5.6M102.32 96.9l5.6 -5.6M103.34 95.83h5.6M106.14 93.03v5.6M103.34 93.03l5.6 5.6M103.34 98.63l5.6 -5.6M104.36 91.74h5.6M107.16 88.94v5.6M104.36 88.94l5.6 5.6M104.36 94.54l5.6 -5.6M105.38 93.35h5.6M108.18 90.55v5.6M105.38 90.55l5.6 5.6M105.38 96.15l5.6 -5.6M106.39 89.5h5.6M109.19 86.7v5.6M106.39 86.7l5.6 5.6M106.39 92.3l5.6 -5.6M107.41 91h5.6M110.21 88.2v5.6M107.41 88.2l5.6 5.6M107.41 93.8l5.6 -5.6M108.43 87.36h5.6M111.23 84.56v5.6M108.43 84.56l5.6 5.6M108.43 90.16l5.6 -5.6M109.44 88.77h5.6M112.24 85.97v5.6M109.44 85.97l5.6 5.6M109.44 91.57l5.6 -5.6M110.46 85.31h5.6M113.26 82.51v5.6M110.46 82.51l5.6 5.6M110.46 88.11l5.6 -5.6M111.48 86.64h5.6M114.28 83.84v5.6M111.48 83.84l5.6 5.6M111.48 89.44l5.6 -5.6M112.5 83.35h5.6M115.3 80.55v5.6M112.5 80.55l5.6 5.6M112.5 86.15l5.6 -5.6M113.51 84.6h5.6M116.31 81.8v5.6M113.51 81.8l5.6 5.6M113.51 87.4l5.6 -5.6M114.53 81.46h5.6M117.33 78.66v5.6M114.53 78.66l5.6 5.6M114.53 84.26l5.6 -5.6M115.55 82.64h5.6M118.35 79.84v5.6M115.55 79.84l5.6 5.6M115.55 85.44l5.6 -5.6M116.57 79.65h5.6M119.37 76.85v5.6M116.57 76.85l5.6 5.6M116.57 82.45l5.6 -5.6M117.58 80.77h5.6M120.38 77.97v5.6M117.58 77.97l5.6 5.6M117.58 83.57l5.6 -5.6M118.6 77.91h5.6M121.4 75.11v5.6M118.6 75.11l5.6 5.6M118.6 80.71l5.6 -5.6M119.62 78.96h5.6M122.42 76.16v5.6M119.62 76.16l5.6 5.6M119.62 81.76l5.6 -5.6M120.64 76.22h5.6M123.44 73.42v5.6M120.64 73.42l5.6 5.6M120.64 79.02l5.6 -5.6M121.65 77.22h5.6M124.45 74.42v5.6M121.65 74.42l5.6 5.6M121.65 80.02l5.6 -5.6M122.67 74.59h5.6M125.47 71.79v5.6M122.67 71.79l5.6 5.6M122.67 77.39l5.6 -5.6M123.69 75.54h5.6M126.49 72.74v5.6M123.69 72.74l5.6 5.6M123.69 78.34l5.6 -5.6M124.71 73.01h5.6M127.51 70.21v5.6M124.71 70.21l5.6 5.6M124.71 75.81l5.6 -5.6M125.72 73.92h5.6M128.52 71.12v5.6M125.72 71.12l5.6 5.6M125.72 76.72l5.6 -5.6M126.74 71.48h5.6M129.54 68.68v5.6M126.74 68.68l5.6 5.6M126.74 74.28l5.6 -5.6M127.76 72.34h5.6M130.56 69.54v5.6M127.76 69.54l5.6 5.6M127.76 75.14l5.6 -5.6M128.78 69.99h5.6M131.58 67.19v5.6M128.78 67.19l5.6 5.6M128.78 72.79l5.6 -5.6M129.79 70.81h5.6M132.59 68.01v5.6M129.79 68.01l5.6 5.6M129.79 73.61l5.6 -5.6M130.81 68.55h5.6M133.61 65.75v5.6M130.81 65.75l5.6 5.6M130.81 71.35l5.6 -5.6M131.83 69.33h5.6M134.63 66.53v5.6M131.83 66.53l5.6 5.6M131.83 72.13l5.6 -5.6M132.84 67.14h5.6M135.64 64.34v5.6M132.84 64.34l5.6 5.6M132.84 69.94l5.6 -5.6M133.86 67.89h5.6M136.66 65.09v5.6M133.86 65.09l5.6 5.6M133.86 70.69l5.6 -5.6M134.88 65.77h5.6M137.68 62.97v5.6M134.88 62.97l5.6 5.6M134.88 68.57l5.6 -5.6M135.9 66.49h5.6M138.7 63.69v5.6M135.9 63.69l5.6 5.6M135.9 69.29l5.6 -5.6M136.91 64.44h5.6M139.71 61.64v5.6M136.91 61.64l5.6 5.6M136.91 67.24l5.6 -5.6M137.93 65.12h5.6M140.73 62.32v5.6M137.93 62.32l5.6 5.6M137.93 67.92l5.6 -5.6M138.95 63.13h5.6M141.75 60.33v5.6M138.95 60.33l5.6 5.6M138.95 65.93l5.6 -5.6M139.97 63.78h5.6M142.77 60.98v5.6M139.97 60.98l5.6 5.6M139.97 66.58l5.6 -5.6M140.98 61.86h5.6M143.78 59.06v5.6M140.98 59.06l5.6 5.6M140.98 64.66l5.6 -5.6M142 62.48h5.6M144.8 59.68v5.6M142 59.68l5.6 5.6M142 65.28l5.6 -5.6M143.02 60.61h5.6M145.82 57.81v5.6M143.02 57.81l5.6 5.6M143.02 63.41l5.6 -5.6M144.04 61.21h5.6M146.84 58.41v5.6M144.04 58.41l5.6 5.6M144.04 64.01l5.6 -5.6M145.05 59.39h5.6M147.85 56.59v5.6M145.05 56.59l5.6 5.6M145.05 62.19l5.6 -5.6M146.07 59.96h5.6M148.87 57.16v5.6M146.07 57.16l5.6 5.6M146.07 62.76l5.6 -5.6M147.09 58.19h5.6M149.89 55.39v5.6M147.09 55.39l5.6 5.6M147.09 60.99l5.6 -5.6M148.11 58.74h5.6M150.91 55.94v5.6M148.11 55.94l5.6 5.6M148.11 61.54l5.6 -5.6M149.12 57.02h5.6M151.92 54.22v5.6M149.12 54.22l5.6 5.6M149.12 59.82l5.6 -5.6M150.14 57.54h5.6M152.94 54.74v5.6M150.14 54.74l5.6 5.6M150.14 60.34l5.6 -5.6M151.16 55.87h5.6M153.96 53.07v5.6M151.16 53.07l5.6 5.6M151.16 58.67l5.6 -5.6M152.17 56.37h5.6M154.97 53.57v5.6M152.17 53.57l5.6 5.6M152.17 59.17l5.6 -5.6M153.19 54.74h5.6M155.99 51.94v5.6M153.19 51.94l5.6 5.6M153.19 57.54l5.6 -5.6M154.21 55.22h5.6M157.01 52.42v5.6M154.21 52.42l5.6 5.6M154.21 58.02l5.6 -5.6M155.23 53.63h5.6M158.03 50.83v5.6M155.23 50.83l5.6 5.6M155.23 56.43l5.6 -5.6M156.24 54.09h5.6M159.04 51.29v5.6M156.24 51.29l5.6 5.6M156.24 56.89l5.6 -5.6M157.26 52.54h5.6M160.06 49.74v5.6M157.26 49.74l5.6 5.6M157.26 55.34l5.6 -5.6M158.28 52.98h5.6M161.08 50.18v5.6M158.28 50.18l5.6 5.6M158.28 55.78l5.6 -5.6M159.3 51.46h5.6M162.1 48.66v5.6M159.3 48.66l5.6 5.6M159.3 54.26l5.6 -5.6M160.31 51.88h5.6M163.11 49.08v5.6M160.31 49.08l5.6 5.6M160.31 54.68l5.6 -5.6M161.33 50.4h5.6M164.13 47.6v5.6M161.33 47.6l5.6 5.6M161.33 53.2l5.6 -5.6M162.35 50.81h5.6M165.15 48.01v5.6M162.35 48.01l5.6 5.6M162.35 53.61l5.6 -5.6M163.37 49.36h5.6M166.17 46.56v5.6M163.37 46.56l5.6 5.6M163.37 52.16l5.6 -5.6M164.38 49.75h5.6M167.18 46.95v5.6M164.38 46.95l5.6 5.6M164.38 52.55l5.6 -5.6M165.4 48.33h5.6M168.2 45.53v5.6M165.4 45.53l5.6 5.6M165.4 51.13l5.6 -5.6M166.42 48.7h5.6M169.22 45.9v5.6M166.42 45.9l5.6 5.6M166.42 51.5l5.6 -5.6M167.44 47.32h5.6M170.24 44.52v5.6M167.44 44.52l5.6 5.6M167.44 50.12l5.6 -5.6M168.45 47.67h5.6M171.25 44.87v5.6M168.45 44.87l5.6 5.6M168.45 50.47l5.6 -5.6M169.47 46.32h5.6M172.27 43.52v5.6M169.47 43.52l5.6 5.6M169.47 49.12l5.6 -5.6M170.49 46.65h5.6M173.29 43.85v5.6M170.49 43.85l5.6 5.6M170.49 49.45l5.6 -5.6M171.5 45.33h5.6M174.3 42.53v5.6M171.5 42.53l5.6 5.6M171.5 48.13l5.6 -5.6M172.52 45.65h5.6M175.32 42.85v5.6M172.52 42.85l5.6 5.6M172.52 48.45l5.6 -5.6M173.54 44.36h5.6M176.34 41.56v5.6M173.54 41.56l5.6 5.6M173.54 47.16l5.6 -5.6M174.56 44.66h5.6M177.36 41.86v5.6M174.56 41.86l5.6 5.6M174.56 47.46l5.6 -5.6M175.57 43.39h5.6M178.37 40.59v5.6M175.57 40.59l5.6 5.6M175.57 46.19l5.6 -5.6M176.59 43.68h5.6M179.39 40.88v5.6M176.59 40.88l5.6 5.6M176.59 46.48l5.6 -5.6M177.61 42.44h5.6M180.41 39.64v5.6M177.61 39.64l5.6 5.6M177.61 45.24l5.6 -5.6M178.63 42.71h5.6M181.43 39.91v5.6M178.63 39.91l5.6 5.6M178.63 45.51l5.6 -5.6M179.64 41.49h5.6M182.44 38.69v5.6M179.64 38.69l5.6 5.6M179.64 44.29l5.6 -5.6M180.66 41.76h5.6M183.46 38.96v5.6M180.66 38.96l5.6 5.6M180.66 44.56l5.6 -5.6M181.68 40.56h5.6M184.48 37.76v5.6M181.68 37.76l5.6 5.6M181.68 43.36l5.6 -5.6M182.7 40.81h5.6M185.5 38.01v5.6M182.7 38.01l5.6 5.6M182.7 43.61l5.6 -5.6M183.71 39.64h5.6M186.51 36.84v5.6M183.71 36.84l5.6 5.6M183.71 42.44l5.6 -5.6M184.73 39.87h5.6M187.53 37.07v5.6M184.73 37.07l5.6 5.6M184.73 42.67l5.6 -5.6M185.75 38.72h5.6M188.55 35.92v5.6M185.75 35.92l5.6 5.6M185.75 41.52l5.6 -5.6M186.77 38.94h5.6M189.57 36.14v5.6M186.77 36.14l5.6 5.6M186.77 41.74l5.6 -5.6M187.78 37.81h5.6M190.58 35.01v5.6M187.78 35.01l5.6 5.6M187.78 40.61l5.6 -5.6M188.8 38.02h5.6M191.6 35.22v5.6M188.8 35.22l5.6 5.6M188.8 40.82l5.6 -5.6M189.82 36.91h5.6M192.62 34.11v5.6M189.82 34.11l5.6 5.6M189.82 39.71l5.6 -5.6M190.83 37.11h5.6M193.63 34.31v5.6M190.83 34.31l5.6 5.6M190.83 39.91l5.6 -5.6M191.85 36.02h5.6M194.65 33.22v5.6M191.85 33.22l5.6 5.6M191.85 38.82l5.6 -5.6M192.87 36.21h5.6M195.67 33.41v5.6M192.87 33.41l5.6 5.6M192.87 39.01l5.6 -5.6M193.89 35.14h5.6M196.69 32.34v5.6M193.89 32.34l5.6 5.6M193.89 37.94l5.6 -5.6M194.9 35.31h5.6M197.7 32.51v5.6M194.9 32.51l5.6 5.6M194.9 38.11l5.6 -5.6M195.92 34.26h5.6M198.72 31.46v5.6M195.92 31.46l5.6 5.6M195.92 37.06l5.6 -5.6M196.94 34.42h5.6M199.74 31.62v5.6M196.94 31.62l5.6 5.6M196.94 37.22l5.6 -5.6M197.96 33.39h5.6M200.76 30.59v5.6M197.96 30.59l5.6 5.6M197.96 36.19l5.6 -5.6M198.97 33.54h5.6M201.77 30.74v5.6M198.97 30.74l5.6 5.6M198.97 36.34l5.6 -5.6M199.99 32.52h5.6M202.79 29.72v5.6M199.99 29.72l5.6 5.6M199.99 35.32l5.6 -5.6M201.01 32.66h5.6M203.81 29.86v5.6M201.01 29.86l5.6 5.6M201.01 35.46l5.6 -5.6M202.03 31.66h5.6M204.83 28.86v5.6M202.03 28.86l5.6 5.6M202.03 34.46l5.6 -5.6M203.04 31.79h5.6M205.84 28.99v5.6M203.04 28.99l5.6 5.6M203.04 34.59l5.6 -5.6M204.06 30.81h5.6M206.86 28.01v5.6M204.06 28.01l5.6 5.6M204.06 33.61l5.6 -5.6M205.08 30.93h5.6M207.88 28.13v5.6M205.08 28.13l5.6 5.6M205.08 33.73l5.6 -5.6M206.1 29.96h5.6M208.9 27.16v5.6M206.1 27.16l5.6 5.6M206.1 32.76l5.6 -5.6M207.11 30.07h5.6M209.91 27.27v5.6M207.11 27.27l5.6 5.6M207.11 32.87l5.6 -5.6M208.13 29.11h5.6M210.93 26.31v5.6M208.13 26.31l5.6 5.6M208.13 31.91l5.6 -5.6M209.15 29.22h5.6M211.95 26.42v5.6M209.15 26.42l5.6 5.6M209.15 32.02l5.6 -5.6M210.17 28.28h5.6M212.97 25.48v5.6M210.17 25.48l5.6 5.6M210.17 31.08l5.6 -5.6M211.18 28.37h5.6M213.98 25.57v5.6M211.18 25.57l5.6 5.6M211.18 31.17l5.6 -5.6M212.2 27.44h5.6M215 24.64v5.6M212.2 24.64l5.6 5.6M212.2 30.24l5.6 -5.6M213.22 27.53h5.6M216.02 24.73v5.6M213.22 24.73l5.6 5.6M213.22 30.33l5.6 -5.6M214.23 26.61h5.6M217.03 23.81v5.6M214.23 23.81l5.6 5.6M214.23 29.41l5.6 -5.6M215.25 26.69h5.6M218.05 23.89v5.6M215.25 23.89l5.6 5.6M215.25 29.49l5.6 -5.6M216.27 25.79h5.6M219.07 22.99v5.6M216.27 22.99l5.6 5.6M216.27 28.59l5.6 -5.6M217.29 25.85h5.6M220.09 23.05v5.6M217.29 23.05l5.6 5.6M217.29 28.65l5.6 -5.6M218.3 24.96h5.6M221.1 22.16v5.6M218.3 22.16l5.6 5.6M218.3 27.76l5.6 -5.6M219.32 25.02h5.6M222.12 22.22v5.6M219.32 22.22l5.6 5.6M219.32 27.82l5.6 -5.6M220.34 24.15h5.6M223.14 21.35v5.6M220.34 21.35l5.6 5.6M220.34 26.95l5.6 -5.6M221.36 24.19h5.6M224.16 21.39v5.6M221.36 21.39l5.6 5.6M221.36 26.99l5.6 -5.6M222.37 23.33h5.6M225.17 20.53v5.6M222.37 20.53l5.6 5.6M222.37 26.13l5.6 -5.6M223.39 23.37h5.6M226.19 20.57v5.6M223.39 20.57l5.6 5.6M223.39 26.17l5.6 -5.6M224.41 22.52h5.6M227.21 19.72v5.6M224.41 19.72l5.6 5.6M224.41 25.32l5.6 -5.6M225.43 22.55h5.6M228.23 19.75v5.6M225.43 19.75l5.6 5.6M225.43 25.35l5.6 -5.6M226.44 21.71h5.6M229.24 18.91v5.6M226.44 18.91l5.6 5.6M226.44 24.51l5.6 -5.6M227.46 21.73h5.6M230.26 18.93v5.6M227.46 18.93l5.6 5.6M227.46 24.53l5.6 -5.6M228.48 20.91h5.6M231.28 18.11v5.6M228.48 18.11l5.6 5.6M228.48 23.71l5.6 -5.6M229.5 20.92h5.6M232.3 18.12v5.6M229.5 18.12l5.6 5.6M229.5 23.72l5.6 -5.6M230.51 20.1h5.6M233.31 17.3v5.6M230.51 17.3l5.6 5.6M230.51 22.9l5.6 -5.6M231.53 20.11h5.6M234.33 17.31v5.6M231.53 17.31l5.6 5.6M231.53 22.91l5.6 -5.6M232.55 19.31h5.6M235.35 16.51v5.6M232.55 16.51l5.6 5.6M232.55 22.11l5.6 -5.6M233.56 19.3h5.6M236.36 16.5v5.6M233.56 16.5l5.6 5.6M233.56 22.1l5.6 -5.6M234.58 18.51h5.6M237.38 15.71v5.6M234.58 15.71l5.6 5.6M234.58 21.31l5.6 -5.6M235.6 18.5h5.6M238.4 15.7v5.6M235.6 15.7l5.6 5.6M235.6 21.3l5.6 -5.6M236.62 17.71h5.6M239.42 14.91v5.6M236.62 14.91l5.6 5.6M236.62 20.51l5.6 -5.6M237.63 17.7h5.6M240.43 14.9v5.6M237.63 14.9l5.6 5.6M237.63 20.5l5.6 -5.6M238.65 16.92h5.6M241.45 14.12v5.6M238.65 14.12l5.6 5.6M238.65 19.72l5.6 -5.6M239.67 16.9h5.6M242.47 14.1v5.6M239.67 14.1l5.6 5.6M239.67 19.7l5.6 -5.6M240.69 16.13h5.6M243.49 13.33v5.6M240.69 13.33l5.6 5.6M240.69 18.93l5.6 -5.6M241.7 16.1h5.6M244.5 13.3v5.6M241.7 13.3l5.6 5.6M241.7 18.9l5.6 -5.6M242.72 15.35h5.6M245.52 12.55v5.6M242.72 12.55l5.6 5.6M242.72 18.15l5.6 -5.6M243.74 15.3h5.6M246.54 12.5v5.6M243.74 12.5l5.6 5.6M243.74 18.1l5.6 -5.6M244.76 14.56h5.6M247.56 11.76v5.6M244.76 11.76l5.6 5.6M244.76 17.36l5.6 -5.6M245.77 14.51h5.6M248.57 11.71v5.6M245.77 11.71l5.6 5.6M245.77 17.31l5.6 -5.6M246.79 13.78h5.6M249.59 10.98v5.6M246.79 10.98l5.6 5.6M246.79 16.58l5.6 -5.6M247.81 13.72h5.6M250.61 10.92v5.6M247.81 10.92l5.6 5.6M247.81 16.52l5.6 -5.6M248.83 13h5.6M251.63 10.2v5.6M248.83 10.2l5.6 5.6M248.83 15.8l5.6 -5.6M249.84 12.93h5.6M252.64 10.13v5.6M249.84 10.13l5.6 5.6M249.84 15.73l5.6 -5.6M250.86 12.22h5.6M253.66 9.42v5.6M250.86 9.42l5.6 5.6M250.86 15.02l5.6 -5.6M251.88 12.14h5.6M254.68 9.34v5.6M251.88 9.34l5.6 5.6M251.88 14.94l5.6 -5.6M252.89 11.44h5.6M255.69 8.64v5.6M252.89 8.64l5.6 5.6M252.89 14.24l5.6 -5.6M253.91 11.36h5.6M256.71 8.56v5.6M253.91 8.56l5.6 5.6M253.91 14.16l5.6 -5.6M254.93 10.67h5.6M257.73 7.87v5.6M254.93 7.87l5.6 5.6M254.93 13.47l5.6 -5.6M255.95 10.57h5.6M258.75 7.77v5.6M255.95 7.77l5.6 5.6M255.95 13.37l5.6 -5.6M256.96 9.89h5.6M259.76 7.09v5.6M256.96 7.09l5.6 5.6M256.96 12.69l5.6 -5.6M257.98 9.79h5.6M260.78 6.99v5.6M257.98 6.99l5.6 5.6M257.98 12.59l5.6 -5.6M259 9.12h5.6M261.8 6.32v5.6M259 6.32l5.6 5.6M259 11.92l5.6 -5.6M260.02 9h5.6M262.82 6.2v5.6M260.02 6.2l5.6 5.6M260.02 11.8l5.6 -5.6M261.03 8.35h5.6M263.83 5.55v5.6M261.03 5.55l5.6 5.6M261.03 11.15l5.6 -5.6M262.05 8.22h5.6M264.85 5.42v5.6M262.05 5.42l5.6 5.6M262.05 11.02l5.6 -5.6M263.07 7.59h5.6M265.87 4.79v5.6M263.07 4.79l5.6 5.6M263.07 10.39l5.6 -5.6M264.09 7.44h5.6M266.89 4.64v5.6M264.09 4.64l5.6 5.6M264.09 10.24l5.6 -5.6M265.1 6.82h5.6M267.9 4.02v5.6M265.1 4.02l5.6 5.6M265.1 9.62l5.6 -5.6M266.12 6.65h5.6M268.92 3.85v5.6M266.12 3.85l5.6 5.6M266.12 9.45l5.6 -5.6M267.14 6.07h5.6M269.94 3.27v5.6M267.14 3.27l5.6 5.6M267.14 8.87l5.6 -5.6M268.16 5.85h5.6M270.96 3.05v5.6M268.16 3.05l5.6 5.6M268.16 8.65l5.6 -5.6M269.17 5.33h5.6M271.97 2.53v5.6M269.17 2.53l5.6 5.6M269.17 8.13l5.6 -5.6M270.19 5.03h5.6M272.99 2.23v5.6M270.19 2.23l5.6 5.6M270.19 7.83l5.6 -5.6M271.21 4.66h5.6M274.01 1.86v5.6M271.21 1.86l5.6 5.6M271.21 7.46l5.6 -5.6M272.22 4.04h5.6M275.02 1.24v5.6M272.22 1.24l5.6 5.6M272.22 6.84l5.6 -5.6M273.24 4.66h5.6M276.04 1.86v5.6M273.24 1.86l5.6 5.6M273.24 7.46l5.6 -5.6M274.26 5.03h5.6M277.06 2.23v5.6M274.26 2.23l5.6 5.6M274.26 7.83l5.6 -5.6M275.28 5.33h5.6M278.08 2.53v5.6M275.28 2.53l5.6 5.6M275.28 8.13l5.6 -5.6M276.29 5.85h5.6M279.09 3.05v5.6M276.29 3.05l5.6 5.6M276.29 8.65l5.6 -5.6M277.31 6.07h5.6M280.11 3.27v5.6M277.31 3.27l5.6 5.6M277.31 8.87l5.6 -5.6M278.33 6.65h5.6M281.13 3.85v5.6M278.33 3.85l5.6 5.6M278.33 9.45l5.6 -5.6M279.35 6.82h5.6M282.15 4.02v5.6M279.35 4.02l5.6 5.6M279.35 9.62l5.6 -5.6M280.36 7.44h5.6M283.16 4.64v5.6M280.36 4.64l5.6 5.6M280.36 10.24l5.6 -5.6M281.38 7.59h5.6M284.18 4.79v5.6M281.38 4.79l5.6 5.6M281.38 10.39l5.6 -5.6M282.4 8.22h5.6M285.2 5.42v5.6M282.4 5.42l5.6 5.6M282.4 11.02l5.6 -5.6M283.42 8.35h5.6M286.22 5.55v5.6M283.42 5.55l5.6 5.6M283.42 11.15l5.6 -5.6M284.43 9h5.6M287.23 6.2v5.6M284.43 6.2l5.6 5.6M284.43 11.8l5.6 -5.6M285.45 9.12h5.6M288.25 6.32v5.6M285.45 6.32l5.6 5.6M285.45 11.92l5.6 -5.6M286.47 9.79h5.6M289.27 6.99v5.6M286.47 6.99l5.6 5.6M286.47 12.59l5.6 -5.6M287.49 9.89h5.6M290.29 7.09v5.6M287.49 7.09l5.6 5.6M287.49 12.69l5.6 -5.6M288.5 10.57h5.6M291.3 7.77v5.6M288.5 7.77l5.6 5.6M288.5 13.37l5.6 -5.6M289.52 10.67h5.6M292.32 7.87v5.6M289.52 7.87l5.6 5.6M289.52 13.47l5.6 -5.6M290.54 11.36h5.6M293.34 8.56v5.6M290.54 8.56l5.6 5.6M290.54 14.16l5.6 -5.6M291.56 11.44h5.6M294.36 8.64v5.6M291.56 8.64l5.6 5.6M291.56 14.24l5.6 -5.6M292.57 12.14h5.6M295.37 9.34v5.6M292.57 9.34l5.6 5.6M292.57 14.94l5.6 -5.6M293.59 12.22h5.6M296.39 9.42v5.6M293.59 9.42l5.6 5.6M293.59 15.02l5.6 -5.6M294.61 12.93h5.6M297.41 10.13v5.6M294.61 10.13l5.6 5.6M294.61 15.73l5.6 -5.6M295.62 13h5.6M298.42 10.2v5.6M295.62 10.2l5.6 5.6M295.62 15.8l5.6 -5.6M296.64 13.72h5.6M299.44 10.92v5.6M296.64 10.92l5.6 5.6M296.64 16.52l5.6 -5.6M297.66 13.78h5.6M300.46 10.98v5.6M297.66 10.98l5.6 5.6M297.66 16.58l5.6 -5.6M298.68 14.51h5.6M301.48 11.71v5.6M298.68 11.71l5.6 5.6M298.68 17.31l5.6 -5.6M299.69 14.56h5.6M302.49 11.76v5.6M299.69 11.76l5.6 5.6M299.69 17.36l5.6 -5.6M300.71 15.3h5.6M303.51 12.5v5.6M300.71 12.5l5.6 5.6M300.71 18.1l5.6 -5.6M301.73 15.35h5.6M304.53 12.55v5.6M301.73 12.55l5.6 5.6M301.73 18.15l5.6 -5.6M302.75 16.1h5.6M305.55 13.3v5.6M302.75 13.3l5.6 5.6M302.75 18.9l5.6 -5.6M303.76 16.13h5.6M306.56 13.33v5.6M303.76 13.33l5.6 5.6M303.76 18.93l5.6 -5.6M304.78 16.9h5.6M307.58 14.1v5.6M304.78 14.1l5.6 5.6M304.78 19.7l5.6 -5.6M305.8 16.92h5.6M308.6 14.12v5.6M305.8 14.12l5.6 5.6M305.8 19.72l5.6 -5.6M306.82 17.7h5.6M309.62 14.9v5.6M306.82 14.9l5.6 5.6M306.82 20.5l5.6 -5.6M307.83 17.71h5.6M310.63 14.91v5.6M307.83 14.91l5.6 5.6M307.83 20.51l5.6 -5.6M308.85 18.5h5.6M311.65 15.7v5.6M308.85 15.7l5.6 5.6M308.85 21.3l5.6 -5.6M309.87 18.51h5.6M312.67 15.71v5.6M309.87 15.71l5.6 5.6M309.87 21.31l5.6 -5.6M310.89 19.3h5.6M313.69 16.5v5.6M310.89 16.5l5.6 5.6M310.89 22.1l5.6 -5.6M311.9 19.31h5.6M314.7 16.51v5.6M311.9 16.51l5.6 5.6M311.9 22.11l5.6 -5.6M312.92 20.11h5.6M315.72 17.31v5.6M312.92 17.31l5.6 5.6M312.92 22.91l5.6 -5.6M313.94 20.1h5.6M316.74 17.3v5.6M313.94 17.3l5.6 5.6M313.94 22.9l5.6 -5.6M314.95 20.92h5.6M317.75 18.12v5.6M314.95 18.12l5.6 5.6M314.95 23.72l5.6 -5.6M315.97 20.91h5.6M318.77 18.11v5.6M315.97 18.11l5.6 5.6M315.97 23.71l5.6 -5.6M316.99 21.73h5.6M319.79 18.93v5.6M316.99 18.93l5.6 5.6M316.99 24.53l5.6 -5.6M318.01 21.71h5.6M320.81 18.91v5.6M318.01 18.91l5.6 5.6M318.01 24.51l5.6 -5.6M319.02 22.55h5.6M321.82 19.75v5.6M319.02 19.75l5.6 5.6M319.02 25.35l5.6 -5.6M320.04 22.52h5.6M322.84 19.72v5.6M320.04 19.72l5.6 5.6M320.04 25.32l5.6 -5.6M321.06 23.37h5.6M323.86 20.57v5.6M321.06 20.57l5.6 5.6M321.06 26.17l5.6 -5.6M322.08 23.33h5.6M324.88 20.53v5.6M322.08 20.53l5.6 5.6M322.08 26.13l5.6 -5.6M323.09 24.19h5.6M325.89 21.39v5.6M323.09 21.39l5.6 5.6M323.09 26.99l5.6 -5.6M324.11 24.15h5.6M326.91 21.35v5.6M324.11 21.35l5.6 5.6M324.11 26.95l5.6 -5.6M325.13 25.02h5.6M327.93 22.22v5.6M325.13 22.22l5.6 5.6M325.13 27.82l5.6 -5.6M326.15 24.96h5.6M328.95 22.16v5.6M326.15 22.16l5.6 5.6M326.15 27.76l5.6 -5.6M327.16 25.85h5.6M329.96 23.05v5.6M327.16 23.05l5.6 5.6M327.16 28.65l5.6 -5.6M328.18 25.79h5.6M330.98 22.99v5.6M328.18 22.99l5.6 5.6M328.18 28.59l5.6 -5.6M329.2 26.69h5.6M332 23.89v5.6M329.2 23.89l5.6 5.6M329.2 29.49l5.6 -5.6M330.22 26.61h5.6M333.02 23.81v5.6M330.22 23.81l5.6 5.6M330.22 29.41l5.6 -5.6M331.23 27.53h5.6M334.03 24.73v5.6M331.23 24.73l5.6 5.6M331.23 30.33l5.6 -5.6M332.25 27.44h5.6M335.05 24.64v5.6M332.25 24.64l5.6 5.6M332.25 30.24l5.6 -5.6M333.27 28.37h5.6M336.07 25.57v5.6M333.27 25.57l5.6 5.6M333.27 31.17l5.6 -5.6M334.28 28.28h5.6M337.08 25.48v5.6M334.28 25.48l5.6 5.6M334.28 31.08l5.6 -5.6M335.3 29.22h5.6M338.1 26.42v5.6M335.3 26.42l5.6 5.6M335.3 32.02l5.6 -5.6M336.32 29.11h5.6M339.12 26.31v5.6M336.32 26.31l5.6 5.6M336.32 31.91l5.6 -5.6M337.34 30.07h5.6M340.14 27.27v5.6M337.34 27.27l5.6 5.6M337.34 32.87l5.6 -5.6M338.35 29.96h5.6M341.15 27.16v5.6M338.35 27.16l5.6 5.6M338.35 32.76l5.6 -5.6M339.37 30.93h5.6M342.17 28.13v5.6M339.37 28.13l5.6 5.6M339.37 33.73l5.6 -5.6M340.39 30.81h5.6M343.19 28.01v5.6M340.39 28.01l5.6 5.6M340.39 33.61l5.6 -5.6M341.41 31.79h5.6M344.21 28.99v5.6M341.41 28.99l5.6 5.6M341.41 34.59l5.6 -5.6M342.42 31.66h5.6M345.22 28.86v5.6M342.42 28.86l5.6 5.6M342.42 34.46l5.6 -5.6M343.44 32.66h5.6M346.24 29.86v5.6M343.44 29.86l5.6 5.6M343.44 35.46l5.6 -5.6M344.46 32.52h5.6M347.26 29.72v5.6M344.46 29.72l5.6 5.6M344.46 35.32l5.6 -5.6M345.48 33.54h5.6M348.28 30.74v5.6M345.48 30.74l5.6 5.6M345.48 36.34l5.6 -5.6M346.49 33.39h5.6M349.29 30.59v5.6M346.49 30.59l5.6 5.6M346.49 36.19l5.6 -5.6M347.51 34.42h5.6M350.31 31.62v5.6M347.51 31.62l5.6 5.6M347.51 37.22l5.6 -5.6M348.53 34.26h5.6M351.33 31.46v5.6M348.53 31.46l5.6 5.6M348.53 37.06l5.6 -5.6M349.55 35.31h5.6M352.35 32.51v5.6M349.55 32.51l5.6 5.6M349.55 38.11l5.6 -5.6M350.56 35.14h5.6M353.36 32.34v5.6M350.56 32.34l5.6 5.6M350.56 37.94l5.6 -5.6M351.58 36.21h5.6M354.38 33.41v5.6M351.58 33.41l5.6 5.6M351.58 39.01l5.6 -5.6M352.6 36.02h5.6M355.4 33.22v5.6M352.6 33.22l5.6 5.6M352.6 38.82l5.6 -5.6M353.61 37.11h5.6M356.41 34.31v5.6M353.61 34.31l5.6 5.6M353.61 39.91l5.6 -5.6M354.63 36.91h5.6M357.43 34.11v5.6M354.63 34.11l5.6 5.6M354.63 39.71l5.6 -5.6M355.65 38.02h5.6M358.45 35.22v5.6M355.65 35.22l5.6 5.6M355.65 40.82l5.6 -5.6M356.67 37.81h5.6M359.47 35.01v5.6M356.67 35.01l5.6 5.6M356.67 40.61l5.6 -5.6M357.68 38.94h5.6M360.48 36.14v5.6M357.68 36.14l5.6 5.6M357.68 41.74l5.6 -5.6M358.7 38.72h5.6M361.5 35.92v5.6M358.7 35.92l5.6 5.6M358.7 41.52l5.6 -5.6M359.72 39.87h5.6M362.52 37.07v5.6M359.72 37.07l5.6 5.6M359.72 42.67l5.6 -5.6M360.74 39.64h5.6M363.54 36.84v5.6M360.74 36.84l5.6 5.6M360.74 42.44l5.6 -5.6M361.75 40.81h5.6M364.55 38.01v5.6M361.75 38.01l5.6 5.6M361.75 43.61l5.6 -5.6M362.77 40.56h5.6M365.57 37.76v5.6M362.77 37.76l5.6 5.6M362.77 43.36l5.6 -5.6M363.79 41.76h5.6M366.59 38.96v5.6M363.79 38.96l5.6 5.6M363.79 44.56l5.6 -5.6M364.81 41.49h5.6M367.61 38.69v5.6M364.81 38.69l5.6 5.6M364.81 44.29l5.6 -5.6M365.82 42.71h5.6M368.62 39.91v5.6M365.82 39.91l5.6 5.6M365.82 45.51l5.6 -5.6M366.84 42.44h5.6M369.64 39.64v5.6M366.84 39.64l5.6 5.6M366.84 45.24l5.6 -5.6M367.86 43.68h5.6M370.66 40.88v5.6M367.86 40.88l5.6 5.6M367.86 46.48l5.6 -5.6M368.88 43.39h5.6M371.68 40.59v5.6M368.88 40.59l5.6 5.6M368.88 46.19l5.6 -5.6M369.89 44.66h5.6M372.69 41.86v5.6M369.89 41.86l5.6 5.6M369.89 47.46l5.6 -5.6M370.91 44.36h5.6M373.71 41.56v5.6M370.91 41.56l5.6 5.6M370.91 47.16l5.6 -5.6M371.93 45.65h5.6M374.73 42.85v5.6M371.93 42.85l5.6 5.6M371.93 48.45l5.6 -5.6M372.95 45.33h5.6M375.75 42.53v5.6M372.95 42.53l5.6 5.6M372.95 48.13l5.6 -5.6M373.96 46.65h5.6M376.76 43.85v5.6M373.96 43.85l5.6 5.6M373.96 49.45l5.6 -5.6M374.98 46.32h5.6M377.78 43.52v5.6M374.98 43.52l5.6 5.6M374.98 49.12l5.6 -5.6M376 47.67h5.6M378.8 44.87v5.6M376 44.87l5.6 5.6M376 50.47l5.6 -5.6M377.01 47.32h5.6M379.81 44.52v5.6M377.01 44.52l5.6 5.6M377.01 50.12l5.6 -5.6M378.03 48.7h5.6M380.83 45.9v5.6M378.03 45.9l5.6 5.6M378.03 51.5l5.6 -5.6M379.05 48.33h5.6M381.85 45.53v5.6M379.05 45.53l5.6 5.6M379.05 51.13l5.6 -5.6M380.07 49.75h5.6M382.87 46.95v5.6M380.07 46.95l5.6 5.6M380.07 52.55l5.6 -5.6M381.08 49.36h5.6M383.88 46.56v5.6M381.08 46.56l5.6 5.6M381.08 52.16l5.6 -5.6M382.1 50.81h5.6M384.9 48.01v5.6M382.1 48.01l5.6 5.6M382.1 53.61l5.6 -5.6M383.12 50.4h5.6M385.92 47.6v5.6M383.12 47.6l5.6 5.6M383.12 53.2l5.6 -5.6M384.14 51.88h5.6M386.94 49.08v5.6M384.14 49.08l5.6 5.6M384.14 54.68l5.6 -5.6M385.15 51.46h5.6M387.95 48.66v5.6M385.15 48.66l5.6 5.6M385.15 54.26l5.6 -5.6M386.17 52.98h5.6M388.97 50.18v5.6M386.17 50.18l5.6 5.6M386.17 55.78l5.6 -5.6M387.19 52.54h5.6M389.99 49.74v5.6M387.19 49.74l5.6 5.6M387.19 55.34l5.6 -5.6M388.21 54.09h5.6M391.01 51.29v5.6M388.21 51.29l5.6 5.6M388.21 56.89l5.6 -5.6M389.22 53.63h5.6M392.02 50.83v5.6M389.22 50.83l5.6 5.6M389.22 56.43l5.6 -5.6M390.24 55.22h5.6M393.04 52.42v5.6M390.24 52.42l5.6 5.6M390.24 58.02l5.6 -5.6M391.26 54.74h5.6M394.06 51.94v5.6M391.26 51.94l5.6 5.6M391.26 57.54l5.6 -5.6M392.28 56.37h5.6M395.08 53.57v5.6M392.28 53.57l5.6 5.6M392.28 59.17l5.6 -5.6M393.29 55.87h5.6M396.09 53.07v5.6M393.29 53.07l5.6 5.6M393.29 58.67l5.6 -5.6M394.31 57.54h5.6M397.11 54.74v5.6M394.31 54.74l5.6 5.6M394.31 60.34l5.6 -5.6M395.33 57.02h5.6M398.13 54.22v5.6M395.33 54.22l5.6 5.6M395.33 59.82l5.6 -5.6M396.34 58.74h5.6M399.14 55.94v5.6M396.34 55.94l5.6 5.6M396.34 61.54l5.6 -5.6M397.36 58.19h5.6M400.16 55.39v5.6M397.36 55.39l5.6 5.6M397.36 60.99l5.6 -5.6M398.38 59.96h5.6M401.18 57.16v5.6M398.38 57.16l5.6 5.6M398.38 62.76l5.6 -5.6M399.4 59.39h5.6M402.2 56.59v5.6M399.4 56.59l5.6 5.6M399.4 62.19l5.6 -5.6M400.41 61.21h5.6M403.21 58.41v5.6M400.41 58.41l5.6 5.6M400.41 64.01l5.6 -5.6M401.43 60.61h5.6M404.23 57.81v5.6M401.43 57.81l5.6 5.6M401.43 63.41l5.6 -5.6M402.45 62.48h5.6M405.25 59.68v5.6M402.45 59.68l5.6 5.6M402.45 65.28l5.6 -5.6M403.47 61.86h5.6M406.27 59.06v5.6M403.47 59.06l5.6 5.6M403.47 64.66l5.6 -5.6M404.48 63.78h5.6M407.28 60.98v5.6M404.48 60.98l5.6 5.6M404.48 66.58l5.6 -5.6M405.5 63.13h5.6M408.3 60.33v5.6M405.5 60.33l5.6 5.6M405.5 65.93l5.6 -5.6M406.52 65.12h5.6M409.32 62.32v5.6M406.52 62.32l5.6 5.6M406.52 67.92l5.6 -5.6M407.54 64.44h5.6M410.34 61.64v5.6M407.54 61.64l5.6 5.6M407.54 67.24l5.6 -5.6M408.55 66.49h5.6M411.35 63.69v5.6M408.55 63.69l5.6 5.6M408.55 69.29l5.6 -5.6M409.57 65.77h5.6M412.37 62.97v5.6M409.57 62.97l5.6 5.6M409.57 68.57l5.6 -5.6M410.59 67.89h5.6M413.39 65.09v5.6M410.59 65.09l5.6 5.6M410.59 70.69l5.6 -5.6M411.61 67.14h5.6M414.41 64.34v5.6M411.61 64.34l5.6 5.6M411.61 69.94l5.6 -5.6M412.62 69.33h5.6M415.42 66.53v5.6M412.62 66.53l5.6 5.6M412.62 72.13l5.6 -5.6M413.64 68.55h5.6M416.44 65.75v5.6M413.64 65.75l5.6 5.6M413.64 71.35l5.6 -5.6M414.66 70.81h5.6M417.46 68.01v5.6M414.66 68.01l5.6 5.6M414.66 73.61l5.6 -5.6M415.67 69.99h5.6M418.47 67.19v5.6M415.67 67.19l5.6 5.6M415.67 72.79l5.6 -5.6M416.69 72.34h5.6M419.49 69.54v5.6M416.69 69.54l5.6 5.6M416.69 75.14l5.6 -5.6M417.71 71.48h5.6M420.51 68.68v5.6M417.71 68.68l5.6 5.6M417.71 74.28l5.6 -5.6M418.73 73.92h5.6M421.53 71.12v5.6M418.73 71.12l5.6 5.6M418.73 76.72l5.6 -5.6M419.74 73.01h5.6M422.54 70.21v5.6M419.74 70.21l5.6 5.6M419.74 75.81l5.6 -5.6M420.76 75.54h5.6M423.56 72.74v5.6M420.76 72.74l5.6 5.6M420.76 78.34l5.6 -5.6M421.78 74.59h5.6M424.58 71.79v5.6M421.78 71.79l5.6 5.6M421.78 77.39l5.6 -5.6M422.8 77.22h5.6M425.6 74.42v5.6M422.8 74.42l5.6 5.6M422.8 80.02l5.6 -5.6M423.81 76.22h5.6M426.61 73.42v5.6M423.81 73.42l5.6 5.6M423.81 79.02l5.6 -5.6M424.83 78.96h5.6M427.63 76.16v5.6M424.83 76.16l5.6 5.6M424.83 81.76l5.6 -5.6M425.85 77.91h5.6M428.65 75.11v5.6M425.85 75.11l5.6 5.6M425.85 80.71l5.6 -5.6M426.87 80.77h5.6M429.67 77.97v5.6M426.87 77.97l5.6 5.6M426.87 83.57l5.6 -5.6M427.88 79.65h5.6M430.68 76.85v5.6M427.88 76.85l5.6 5.6M427.88 82.45l5.6 -5.6M428.9 82.64h5.6M431.7 79.84v5.6M428.9 79.84l5.6 5.6M428.9 85.44l5.6 -5.6M429.92 81.46h5.6M432.72 78.66v5.6M429.92 78.66l5.6 5.6M429.92 84.26l5.6 -5.6M430.94 84.6h5.6M433.74 81.8v5.6M430.94 81.8l5.6 5.6M430.94 87.4l5.6 -5.6M431.95 83.35h5.6M434.75 80.55v5.6M431.95 80.55l5.6 5.6M431.95 86.15l5.6 -5.6M432.97 86.64h5.6M435.77 83.84v5.6M432.97 83.84l5.6 5.6M432.97 89.44l5.6 -5.6M433.99 85.31h5.6M436.79 82.51v5.6M433.99 82.51l5.6 5.6M433.99 88.11l5.6 -5.6M435 88.77h5.6M437.81 85.97v5.6M435 85.97l5.6 5.6M435 91.57l5.6 -5.6M436.02 87.36h5.6M438.82 84.56v5.6M436.02 84.56l5.6 5.6M436.02 90.16l5.6 -5.6M437.04 91h5.6M439.84 88.2v5.6M437.04 88.2l5.6 5.6M437.04 93.8l5.6 -5.6M438.06 89.5h5.6M440.86 86.7v5.6M438.06 86.7l5.6 5.6M438.06 92.3l5.6 -5.6M439.07 93.35h5.6M441.87 90.55v5.6M439.07 90.55l5.6 5.6M439.07 96.15l5.6 -5.6M440.09 91.74h5.6M442.89 88.94v5.6M440.09 88.94l5.6 5.6M440.09 94.54l5.6 -5.6M441.11 95.83h5.6M443.91 93.03v5.6M441.11 93.03l5.6 5.6M441.11 98.63l5.6 -5.6M442.13 94.1h5.6M444.93 91.3v5.6M442.13 91.3l5.6 5.6M442.13 96.9l5.6 -5.6M443.14 98.45h5.6M445.94 95.65v5.6M443.14 95.65l5.6 5.6M443.14 101.25l5.6 -5.6M444.16 96.59h5.6M446.96 93.79v5.6M444.16 93.79l5.6 5.6M444.16 99.39l5.6 -5.6M445.18 101.24h5.6M447.98 98.44v5.6M445.18 98.44l5.6 5.6M445.18 104.04l5.6 -5.6M446.2 99.23h5.6M449 96.43v5.6M446.2 96.43l5.6 5.6M446.2 102.03l5.6 -5.6M447.21 104.21h5.6M450.01 101.41v5.6M447.21 101.41l5.6 5.6M447.21 107.01l5.6 -5.6M448.23 102.03h5.6M451.03 99.23v5.6M448.23 99.23l5.6 5.6M448.23 104.83l5.6 -5.6M449.25 107.4h5.6M452.05 104.6v5.6M449.25 104.6l5.6 5.6M449.25 110.2l5.6 -5.6M450.27 105.01h5.6M453.07 102.21v5.6M450.27 102.21l5.6 5.6M450.27 107.81l5.6 -5.6M451.28 110.83h5.6M454.08 108.03v5.6M451.28 108.03l5.6 5.6M451.28 113.63l5.6 -5.6M452.3 108.21h5.6M455.1 105.41v5.6M452.3 105.41l5.6 5.6M452.3 111.01l5.6 -5.6M453.32 114.56h5.6M456.12 111.76v5.6M453.32 111.76l5.6 5.6M453.32 117.36l5.6 -5.6M454.34 111.66h5.6M457.14 108.86v5.6M454.34 108.86l5.6 5.6M454.34 114.46l5.6 -5.6M455.35 118.64h5.6M458.15 115.84v5.6M455.35 115.84l5.6 5.6M455.35 121.44l5.6 -5.6M456.37 115.41h5.6M459.17 112.61v5.6M456.37 112.61l5.6 5.6M456.37 118.21l5.6 -5.6M457.39 123.15h5.6M460.19 120.35v5.6M457.39 120.35l5.6 5.6M457.39 125.95l5.6 -5.6M458.4 119.51h5.6M461.2 116.71v5.6M458.4 116.71l5.6 5.6M458.4 122.31l5.6 -5.6M459.42 128.19h5.6M462.22 125.39v5.6M459.42 125.39l5.6 5.6M459.42 130.99l5.6 -5.6M460.44 124.03h5.6M463.24 121.23v5.6M460.44 121.23l5.6 5.6M460.44 126.83l5.6 -5.6M461.46 133.91h5.6M464.26 131.11v5.6M461.46 131.11l5.6 5.6M461.46 136.71l5.6 -5.6M462.47 129.08h5.6M465.27 126.28v5.6M462.47 126.28l5.6 5.6M462.47 131.88l5.6 -5.6M463.49 140.53h5.6M466.29 137.73v5.6M463.49 137.73l5.6 5.6M463.49 143.33l5.6 -5.6M464.51 134.8h5.6M467.31 132v5.6M464.51 132l5.6 5.6M464.51 137.6l5.6 -5.6M465.53 148.39h5.6M468.33 145.59v5.6M465.53 145.59l5.6 5.6M465.53 151.19l5.6 -5.6M466.54 141.41h5.6M469.34 138.61v5.6M466.54 138.61l5.6 5.6M466.54 144.21l5.6 -5.6M467.56 158.08h5.6M470.36 155.28v5.6M467.56 155.28l5.6 5.6M467.56 160.88l5.6 -5.6M468.58 149.22h5.6M471.38 146.42v5.6M468.58 146.42l5.6 5.6M468.58 152.02l5.6 -5.6M469.6 170.74h5.6M472.4 167.94v5.6M469.6 167.94l5.6 5.6M469.6 173.54l5.6 -5.6M470.61 158.74h5.6M473.41 155.94v5.6M470.61 155.94l5.6 5.6M470.61 161.54l5.6 -5.6M471.63 188.99h5.6M474.43 186.19v5.6M471.63 186.19l5.6 5.6M471.63 191.79l5.6 -5.6M472.65 170.8h5.6M475.45 168v5.6M472.65 168l5.6 5.6M472.65 173.6l5.6 -5.6M473.67 221.3h5.6M476.47 218.5v5.6M473.67 218.5l5.6 5.6M473.67 224.1l5.6 -5.6M474.68 185.78h5.6M477.48 182.98v5.6M474.68 182.98l5.6 5.6M474.68 188.58l5.6 -5.6" stroke="#ab8a32" stroke-width="1.05"/><path d="M321.8 239.1h5M324.3 236.6v5M321.8 236.6l5 5M321.8 241.6l5 -5" stroke="#ad8a22" stroke-width="0.85"/>
<g stroke="#000" stroke-width="1.5" stroke-linejoin="round" stroke-linecap="butt">
<path d="M72.57 235.02L76.67 173.11L80.77 150.57L84.87 136.5L88.97 126.26L93.07 118.22L97.17 111.61L101.27 106L105.37 101.15L109.47 96.87L113.57 93.06L117.67 89.63L121.77 86.52L125.87 83.68L129.97 81.06L134.07 78.66L138.17 76.43L142.27 74.36L146.37 72.43L150.47 70.63L154.57 68.95L158.67 67.37L162.77 65.9L166.87 64.51L170.98 63.21L175.08 62L179.18 60.85L183.28 59.78L187.38 58.77L191.48 57.83L195.58 56.95L199.68 56.12L203.78 55.35L207.88 54.63L211.98 53.96L216.08 53.35L220.18 52.78L224.28 52.25L228.38 51.77L232.48 51.34L236.58 50.95L240.68 50.6L244.78 50.29L248.88 50.02L252.98 49.79L257.08 49.6L261.18 49.45L265.28 49.34L269.38 49.27L273.48 49.24L277.58 49.24L281.68 49.28L285.78 49.37L289.88 49.49L293.99 49.64L298.09 49.84L302.19 50.08L306.29 50.36L310.39 50.68L314.49 51.04L318.59 51.44L322.69 51.89L326.79 52.38L330.89 52.91L334.99 53.5L339.09 54.13L343.19 54.8L347.29 55.54L351.39 56.32L355.49 57.16L359.59 58.06L363.69 59.02L367.79 60.04L371.89 61.13L375.99 62.29L380.09 63.53L384.19 64.85L388.29 66.25L392.39 67.75L396.49 69.35L400.59 71.06L404.69 72.89L408.79 74.86L412.89 76.96L417 79.24L421.1 81.69L425.2 84.36L429.3 87.27L433.4 90.45L437.5 93.97L441.6 97.89L445.7 102.29L449.8 107.31L453.9 113.14L458 120.06L462.1 128.55L466.2 139.54L470.3 155.05L474.4 181.6"/><path d="M76.67 137.23L80.77 115.86L84.87 102.68L88.97 93.5L93.07 86.85L97.17 81.46L101.27 76.99L105.37 73.18L109.47 69.9L113.57 67.04L117.67 64.52L121.77 62.32L125.87 60.41L129.97 58.73L134.07 57.18L138.17 55.78L142.27 54.53L146.37 53.45L150.47 52.47L154.57 51.56L158.67 50.73L162.77 49.96L166.87 49.27L170.98 48.61L175.08 47.99L179.18 47.42L183.28 46.88L187.38 46.34L191.48 45.82L195.58 45.35L199.68 44.96L203.78 44.66L207.88 44.44L211.98 44.28L216.08 44.19L220.18 44.15L224.28 44.16L228.38 44.25L232.48 44.38L236.58 44.55L240.68 44.75L244.78 44.96L248.88 45.2L252.98 45.47L257.08 45.77L261.18 46.1L265.28 46.47L269.38 46.86L273.48 47.25L277.58 47.62L281.68 48.01L285.78 48.39L289.88 48.77L293.99 49.16L298.09 49.56L302.19 49.97L306.29 50.38L310.39 50.8L314.49 51.25L318.59 51.73L322.69 52.24L326.79 52.79L330.89 53.39L334.99 54.03L339.09 54.72L343.19 55.45L347.29 56.24L351.39 57.07L355.49 57.96L359.59 58.9L363.69 59.89L367.79 60.94L371.89 62.06L375.99 63.24L380.09 64.49L384.19 65.83L388.29 67.25L392.39 68.76L396.49 70.37L400.59 72.09L404.69 73.92L408.79 75.89L412.89 78L417 80.26L421.1 82.69L425.2 85.32L429.3 88.19L433.4 91.33L437.5 94.8L441.6 98.66L445.7 103.01L449.8 107.98L453.9 113.76L458 120.62L462.1 129.06L466.2 139.97L470.3 155.39L474.4 181.83"/><path d="M72.57 234.49L76.67 171.84L80.77 148.6L84.87 133.87L88.97 123L93.07 114.34L97.17 107.13L101.27 100.95L105.37 95.52L109.47 90.68L113.57 86.3L117.67 82.3L121.77 78.62L125.87 75.19L129.97 71.99L134.07 68.98L138.17 66.14L142.27 63.44L146.37 60.87L150.47 58.41L154.57 56.04L158.67 53.77L162.77 51.57L166.87 49.44L170.98 47.37L175.08 45.36L179.18 43.39L183.28 41.47L187.38 39.6L191.48 37.76L195.58 35.95L199.68 34.17L203.78 32.42L207.88 30.69L211.98 28.98L216.08 27.29L220.18 25.63L224.28 23.97L228.38 22.33L232.48 20.71L236.58 19.1L240.68 17.49L244.78 15.9L248.88 14.32L252.98 12.74L257.08 11.17L261.18 9.61L265.28 8.05L269.38 6.5L273.48 4.95L277.58 5.33L281.68 6.88L285.78 8.43L289.88 9.99L293.99 11.56L298.09 13.13L302.19 14.71L306.29 16.29L310.39 17.89L314.49 19.5L318.59 21.11L322.69 22.74L326.79 24.38L330.89 26.04L334.99 27.71L339.09 29.4L343.19 31.11L347.29 32.85L351.39 34.61L355.49 36.39L359.59 38.21L363.69 40.06L367.79 41.95L371.89 43.88L375.99 45.85L380.09 47.88L384.19 49.96L388.29 52.11L392.39 54.32L396.49 56.62L400.59 59.01L404.69 61.5L408.79 64.1L412.89 66.83L417 69.71L421.1 72.77L425.2 76.02L429.3 79.5L433.4 83.26L437.5 87.35L441.6 91.83L445.7 96.81L449.8 102.4L453.9 108.81L458 116.33L462.1 125.44L466.2 137.07L470.3 153.25L474.4 180.51"/>
</g>
<path d="M71.55 -0.05H478.5V253.2H71.55Z" stroke="#222" stroke-width="0.9"/>
<path d="M71.55 253.2v-5M71.55 0.2v5M122.42 253.2v-5M122.42 0.2v5M173.29 253.2v-5M173.29 0.2v5M224.16 253.2v-5M224.16 0.2v5M275.02 253.2v-5M275.02 0.2v5M325.89 253.2v-5M325.89 0.2v5M376.76 253.2v-5M376.76 0.2v5M427.63 253.2v-5M427.63 0.2v5M478.5 253.2v-5M478.5 0.2v5M71.55 253.2h5M478.5 253.2h-5M71.55 207.2h5M478.5 207.2h-5M71.55 161.2h5M478.5 161.2h-5M71.55 115.2h5M478.5 115.2h-5M71.55 69.2h5M478.5 69.2h-5M71.55 23.2h5M478.5 23.2h-5" stroke="#222" stroke-width="0.6"/>
</g>
<g font-size="18px" fill="#262626" style="filter:grayscale(1)"><text x="60.3" y="258" text-anchor="end" textLength="24.2" lengthAdjust="spacingAndGlyphs">0.4</text><text x="60.3" y="212" text-anchor="end" textLength="24.2" lengthAdjust="spacingAndGlyphs">0.6</text><text x="60.3" y="166" text-anchor="end" textLength="24.2" lengthAdjust="spacingAndGlyphs">0.8</text><text x="60.3" y="120" text-anchor="end" textLength="9.8" lengthAdjust="spacingAndGlyphs">1</text><text x="60.3" y="74" text-anchor="end" textLength="24.2" lengthAdjust="spacingAndGlyphs">1.2</text><text x="60.3" y="28" text-anchor="end" textLength="24.2" lengthAdjust="spacingAndGlyphs">1.4</text><text x="71.55" y="276.8" text-anchor="middle">0</text><text x="122.42" y="276.8" text-anchor="middle">50</text><text x="173.29" y="276.8" text-anchor="middle">100</text><text x="224.16" y="276.8" text-anchor="middle">150</text><text x="275.02" y="276.8" text-anchor="middle">200</text><text x="325.89" y="276.8" text-anchor="middle">250</text><text x="376.76" y="276.8" text-anchor="middle">300</text><text x="427.63" y="276.8" text-anchor="middle">350</text><text x="478.5" y="276.8" text-anchor="middle">400</text><text x="288.5" y="206.6" text-anchor="end" font-size="17.3px" textLength="83.4" lengthAdjust="spacingAndGlyphs">Minkowski</text><text x="287.8" y="225.4" text-anchor="end" font-size="17.3px" textLength="57.4" lengthAdjust="spacingAndGlyphs">Rindler</text><text x="288.2" y="243.8" text-anchor="end" font-size="17.3px" textLength="68.2" lengthAdjust="spacingAndGlyphs">Rainbow</text>
<g fill="none" stroke="#2c2c2c" stroke-linecap="round"><path d="M271.0 302.2 C273.8 300 277.2 296.4 278.0 293.0 C278.4 291.0 276.9 290.6 275.6 292.0 C273.9 294.0 272.6 298.6 272.3 301.6 C272.1 304 273.8 305.4 277 302.2" stroke-width="0.85"/><path d="M275.3 292.4 C273.8 294.6 272.6 298.6 272.3 301.8" stroke-width="1.3"/></g>
<g transform="translate(13.6,124.5) rotate(-90) translate(-271,-304.6)" fill="none" stroke="#2c2c2c" stroke-linecap="round"><path d="M271.0 302.2 C273.8 300 277.2 296.4 278.0 293.0 C278.4 291.0 276.9 290.6 275.6 292.0 C273.9 294.0 272.6 298.6 272.3 301.6 C272.1 304 273.8 305.4 277 302.2" stroke-width="0.85"/><path d="M275.3 292.4 C273.8 294.6 272.6 298.6 272.3 301.8" stroke-width="1.3"/></g>
<text transform="translate(13.9,143.7) rotate(-90)" font-style="italic" textLength="10.4" lengthAdjust="spacingAndGlyphs">S</text>
<text transform="translate(13.9,132.6) rotate(-90)" font-size="19.5px">(</text>
<text transform="translate(13.9,117.2) rotate(-90)" font-size="19.5px">)</text>
</g>
</svg>
</body></html>
